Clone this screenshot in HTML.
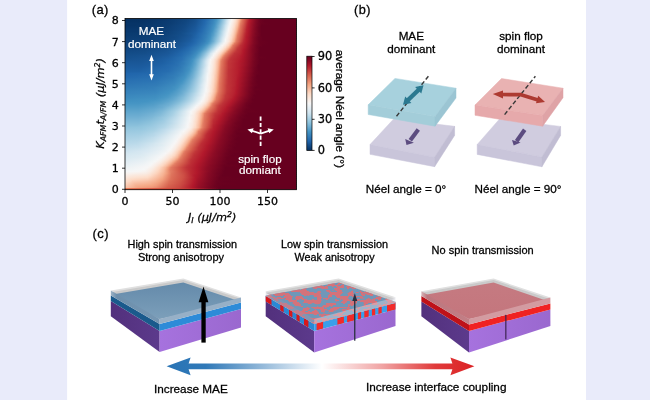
<!DOCTYPE html>
<html><head><meta charset="utf-8"><title>Figure</title>
<style>
html,body{margin:0;padding:0;background:#fff;}
body{width:650px;height:400px;overflow:hidden;position:relative;}
svg{position:absolute;left:0;top:0;display:block;}
.ar{font-family:"Liberation Sans",Arial,Helvetica,sans-serif;}
.dj{font-family:"DejaVu Sans","Liberation Sans",sans-serif;}
.it{font-style:italic;}
text{stroke:#000;stroke-width:.28px;}
.w text{stroke:#fff;stroke-width:.2px;}
</style></head><body>
<svg width="650" height="400" viewBox="0 0 650 400">
<defs>
<linearGradient id="h0" gradientUnits="userSpaceOnUse" x1="125.0" x2="296.5" y1="0" y2="0"><stop offset="0" stop-color="#053061"/><stop offset="0.1224" stop-color="#063264"/><stop offset="0.2362" stop-color="#09386d"/><stop offset="0.3586" stop-color="#10457e"/><stop offset="0.4023" stop-color="#144e8a"/><stop offset="0.4548" stop-color="#1e61a5"/><stop offset="0.481" stop-color="#266caf"/><stop offset="0.5248" stop-color="#3c8abe"/><stop offset="0.5335" stop-color="#4291c2"/><stop offset="0.551" stop-color="#62a7ce"/><stop offset="0.586" stop-color="#b1d5e7"/><stop offset="0.6035" stop-color="#dae9f2"/><stop offset="0.621" stop-color="#f7f5f4"/><stop offset="0.6385" stop-color="#fae8de"/><stop offset="0.6472" stop-color="#fcdecd"/><stop offset="0.6647" stop-color="#f8bb9e"/><stop offset="0.6735" stop-color="#f09c7b"/><stop offset="0.6822" stop-color="#e17860"/><stop offset="0.6997" stop-color="#d05548"/><stop offset="0.7259" stop-color="#b1182b"/><stop offset="0.7697" stop-color="#7c0722"/><stop offset="0.7872" stop-color="#6d0220"/><stop offset="0.8134" stop-color="#67001f"/><stop offset="0.9971" stop-color="#67001f"/></linearGradient>
<linearGradient id="h1" gradientUnits="userSpaceOnUse" x1="125.0" x2="296.5" y1="0" y2="0"><stop offset="0" stop-color="#063264"/><stop offset="0.07872" stop-color="#063264"/><stop offset="0.1312" stop-color="#073467"/><stop offset="0.2711" stop-color="#0c3d73"/><stop offset="0.3586" stop-color="#114781"/><stop offset="0.4111" stop-color="#175290"/><stop offset="0.4636" stop-color="#2267ac"/><stop offset="0.516" stop-color="#3a87bd"/><stop offset="0.5335" stop-color="#4997c5"/><stop offset="0.551" stop-color="#68abd0"/><stop offset="0.5773" stop-color="#a5cee3"/><stop offset="0.5948" stop-color="#d1e5f0"/><stop offset="0.6122" stop-color="#f0f4f6"/><stop offset="0.621" stop-color="#f8f3f0"/><stop offset="0.6297" stop-color="#f9eee7"/><stop offset="0.6472" stop-color="#fddbc7"/><stop offset="0.656" stop-color="#fac8af"/><stop offset="0.6647" stop-color="#f6b191"/><stop offset="0.6735" stop-color="#ea8e70"/><stop offset="0.6822" stop-color="#de735c"/><stop offset="0.6997" stop-color="#ce4f45"/><stop offset="0.7172" stop-color="#b82531"/><stop offset="0.7259" stop-color="#b1182b"/><stop offset="0.7609" stop-color="#840924"/><stop offset="0.7872" stop-color="#6d0220"/><stop offset="0.8134" stop-color="#67001f"/><stop offset="0.9971" stop-color="#67001f"/></linearGradient>
<linearGradient id="h2" gradientUnits="userSpaceOnUse" x1="125.0" x2="296.5" y1="0" y2="0"><stop offset="0" stop-color="#073467"/><stop offset="0.105" stop-color="#073467"/><stop offset="0.2624" stop-color="#0c3d73"/><stop offset="0.3499" stop-color="#114781"/><stop offset="0.4111" stop-color="#185493"/><stop offset="0.4636" stop-color="#2369ad"/><stop offset="0.5073" stop-color="#3783bb"/><stop offset="0.5248" stop-color="#4291c2"/><stop offset="0.5423" stop-color="#5fa5cd"/><stop offset="0.5773" stop-color="#acd2e5"/><stop offset="0.5948" stop-color="#d5e7f1"/><stop offset="0.6122" stop-color="#f6f7f7"/><stop offset="0.6297" stop-color="#faeae1"/><stop offset="0.6472" stop-color="#fcd5bf"/><stop offset="0.656" stop-color="#f9c2a7"/><stop offset="0.6647" stop-color="#f4a683"/><stop offset="0.6735" stop-color="#e48066"/><stop offset="0.691" stop-color="#d55d4c"/><stop offset="0.7172" stop-color="#b61f2e"/><stop offset="0.7347" stop-color="#a21328"/><stop offset="0.7697" stop-color="#790622"/><stop offset="0.7959" stop-color="#6a011f"/><stop offset="0.8484" stop-color="#67001f"/><stop offset="0.9971" stop-color="#67001f"/></linearGradient>
<linearGradient id="h3" gradientUnits="userSpaceOnUse" x1="125.0" x2="296.5" y1="0" y2="0"><stop offset="0" stop-color="#073467"/><stop offset="0.05248" stop-color="#073467"/><stop offset="0.105" stop-color="#08366a"/><stop offset="0.2449" stop-color="#0c3d73"/><stop offset="0.3499" stop-color="#124984"/><stop offset="0.4111" stop-color="#195696"/><stop offset="0.4636" stop-color="#266caf"/><stop offset="0.5073" stop-color="#3a87bd"/><stop offset="0.5248" stop-color="#4695c4"/><stop offset="0.5598" stop-color="#8dc2dc"/><stop offset="0.586" stop-color="#cce2ef"/><stop offset="0.6035" stop-color="#ecf2f5"/><stop offset="0.6122" stop-color="#f7f5f4"/><stop offset="0.6297" stop-color="#fae7dc"/><stop offset="0.6385" stop-color="#fdddcb"/><stop offset="0.656" stop-color="#f8bb9e"/><stop offset="0.6647" stop-color="#ef9979"/><stop offset="0.6735" stop-color="#e17860"/><stop offset="0.6997" stop-color="#c84440"/><stop offset="0.7085" stop-color="#bd2d35"/><stop offset="0.7172" stop-color="#b41c2d"/><stop offset="0.7522" stop-color="#8a0b25"/><stop offset="0.7784" stop-color="#730421"/><stop offset="0.7959" stop-color="#67001f"/><stop offset="0.9971" stop-color="#67001f"/></linearGradient>
<linearGradient id="h4" gradientUnits="userSpaceOnUse" x1="125.0" x2="296.5" y1="0" y2="0"><stop offset="0" stop-color="#08366a"/><stop offset="0.08746" stop-color="#08366a"/><stop offset="0.1399" stop-color="#09386d"/><stop offset="0.2536" stop-color="#0d3f76"/><stop offset="0.3411" stop-color="#124984"/><stop offset="0.4111" stop-color="#1a5899"/><stop offset="0.4548" stop-color="#246aae"/><stop offset="0.4985" stop-color="#3783bb"/><stop offset="0.516" stop-color="#4291c2"/><stop offset="0.5335" stop-color="#5ca3cb"/><stop offset="0.5773" stop-color="#bddbea"/><stop offset="0.586" stop-color="#d2e6f0"/><stop offset="0.6035" stop-color="#f2f5f6"/><stop offset="0.6122" stop-color="#f8f3f0"/><stop offset="0.6297" stop-color="#fbe4d6"/><stop offset="0.6385" stop-color="#fdd9c4"/><stop offset="0.656" stop-color="#f6b191"/><stop offset="0.6647" stop-color="#ea8e70"/><stop offset="0.6735" stop-color="#de735c"/><stop offset="0.6997" stop-color="#c53e3d"/><stop offset="0.7085" stop-color="#ba2832"/><stop offset="0.7172" stop-color="#b3192c"/><stop offset="0.7609" stop-color="#7f0823"/><stop offset="0.7784" stop-color="#700320"/><stop offset="0.7959" stop-color="#67001f"/><stop offset="0.9971" stop-color="#67001f"/></linearGradient>
<linearGradient id="h5" gradientUnits="userSpaceOnUse" x1="125.0" x2="296.5" y1="0" y2="0"><stop offset="0" stop-color="#09386d"/><stop offset="0.1137" stop-color="#09386d"/><stop offset="0.2624" stop-color="#0e4179"/><stop offset="0.3324" stop-color="#124984"/><stop offset="0.4111" stop-color="#1b5a9c"/><stop offset="0.4461" stop-color="#2369ad"/><stop offset="0.4898" stop-color="#3480b9"/><stop offset="0.5073" stop-color="#3e8cbf"/><stop offset="0.516" stop-color="#4695c4"/><stop offset="0.5423" stop-color="#78b4d5"/><stop offset="0.586" stop-color="#d8e9f1"/><stop offset="0.6035" stop-color="#f7f6f6"/><stop offset="0.621" stop-color="#faeae1"/><stop offset="0.6385" stop-color="#fcd3bc"/><stop offset="0.6472" stop-color="#f8bfa4"/><stop offset="0.656" stop-color="#f4a683"/><stop offset="0.6647" stop-color="#e48066"/><stop offset="0.6822" stop-color="#d55d4c"/><stop offset="0.6997" stop-color="#c2383a"/><stop offset="0.7085" stop-color="#b72230"/><stop offset="0.7172" stop-color="#b3192c"/><stop offset="0.7522" stop-color="#870a24"/><stop offset="0.7784" stop-color="#700320"/><stop offset="0.7959" stop-color="#67001f"/><stop offset="0.9971" stop-color="#67001f"/></linearGradient>
<linearGradient id="h6" gradientUnits="userSpaceOnUse" x1="125.0" x2="296.5" y1="0" y2="0"><stop offset="0" stop-color="#09386d"/><stop offset="0.06997" stop-color="#09386d"/><stop offset="0.1224" stop-color="#0a3b70"/><stop offset="0.2449" stop-color="#0e4179"/><stop offset="0.3499" stop-color="#144e8a"/><stop offset="0.4111" stop-color="#1c5c9f"/><stop offset="0.4461" stop-color="#246aae"/><stop offset="0.4985" stop-color="#3b88be"/><stop offset="0.5073" stop-color="#408fc1"/><stop offset="0.5335" stop-color="#6bacd1"/><stop offset="0.551" stop-color="#93c6de"/><stop offset="0.5773" stop-color="#cfe4ef"/><stop offset="0.5948" stop-color="#edf2f5"/><stop offset="0.6035" stop-color="#f8f4f2"/><stop offset="0.621" stop-color="#fae7dc"/><stop offset="0.6297" stop-color="#fdddcb"/><stop offset="0.6472" stop-color="#f7b99c"/><stop offset="0.656" stop-color="#ef9979"/><stop offset="0.6647" stop-color="#e17860"/><stop offset="0.6822" stop-color="#d35a4a"/><stop offset="0.7085" stop-color="#b72230"/><stop offset="0.7172" stop-color="#b1182b"/><stop offset="0.7434" stop-color="#900d26"/><stop offset="0.7784" stop-color="#700320"/><stop offset="0.7959" stop-color="#67001f"/><stop offset="0.9971" stop-color="#67001f"/></linearGradient>
<linearGradient id="h7" gradientUnits="userSpaceOnUse" x1="125.0" x2="296.5" y1="0" y2="0"><stop offset="0" stop-color="#0a3b70"/><stop offset="0.105" stop-color="#0a3b70"/><stop offset="0.2536" stop-color="#0f437b"/><stop offset="0.3236" stop-color="#134c87"/><stop offset="0.4111" stop-color="#1d5fa2"/><stop offset="0.4286" stop-color="#2267ac"/><stop offset="0.4723" stop-color="#307ab6"/><stop offset="0.4985" stop-color="#3e8cbf"/><stop offset="0.516" stop-color="#529dc8"/><stop offset="0.5423" stop-color="#87beda"/><stop offset="0.5598" stop-color="#acd2e5"/><stop offset="0.5773" stop-color="#d5e7f1"/><stop offset="0.5948" stop-color="#f3f5f6"/><stop offset="0.6122" stop-color="#f9ede5"/><stop offset="0.6297" stop-color="#fdd9c4"/><stop offset="0.6385" stop-color="#f9c6ac"/><stop offset="0.6472" stop-color="#f6af8e"/><stop offset="0.656" stop-color="#e98b6e"/><stop offset="0.6647" stop-color="#de735c"/><stop offset="0.6822" stop-color="#d05548"/><stop offset="0.6997" stop-color="#bd2d35"/><stop offset="0.7085" stop-color="#b61f2e"/><stop offset="0.7172" stop-color="#ae172a"/><stop offset="0.7609" stop-color="#7c0722"/><stop offset="0.7959" stop-color="#67001f"/><stop offset="0.9971" stop-color="#67001f"/></linearGradient>
<linearGradient id="h8" gradientUnits="userSpaceOnUse" x1="125.0" x2="296.5" y1="0" y2="0"><stop offset="0" stop-color="#0a3b70"/><stop offset="0.1224" stop-color="#0c3d73"/><stop offset="0.2362" stop-color="#0f437b"/><stop offset="0.3411" stop-color="#15508d"/><stop offset="0.3848" stop-color="#1a5899"/><stop offset="0.4286" stop-color="#2369ad"/><stop offset="0.4723" stop-color="#337eb8"/><stop offset="0.4985" stop-color="#408fc1"/><stop offset="0.516" stop-color="#59a1ca"/><stop offset="0.5335" stop-color="#7bb6d6"/><stop offset="0.551" stop-color="#a2cde3"/><stop offset="0.5773" stop-color="#dae9f2"/><stop offset="0.5948" stop-color="#f7f6f6"/><stop offset="0.6122" stop-color="#fae9df"/><stop offset="0.6297" stop-color="#fcd3bc"/><stop offset="0.6385" stop-color="#f8bfa4"/><stop offset="0.6472" stop-color="#f3a481"/><stop offset="0.656" stop-color="#e37e64"/><stop offset="0.6822" stop-color="#ce4f45"/><stop offset="0.6997" stop-color="#ba2832"/><stop offset="0.7085" stop-color="#b41c2d"/><stop offset="0.7172" stop-color="#ae172a"/><stop offset="0.7434" stop-color="#8d0c25"/><stop offset="0.7697" stop-color="#760521"/><stop offset="0.7959" stop-color="#67001f"/><stop offset="0.9971" stop-color="#67001f"/></linearGradient>
<linearGradient id="h9" gradientUnits="userSpaceOnUse" x1="125.0" x2="296.5" y1="0" y2="0"><stop offset="0" stop-color="#0c3d73"/><stop offset="0.08746" stop-color="#0c3d73"/><stop offset="0.1399" stop-color="#0d3f76"/><stop offset="0.2886" stop-color="#124984"/><stop offset="0.3411" stop-color="#175290"/><stop offset="0.3848" stop-color="#1b5a9c"/><stop offset="0.4286" stop-color="#246aae"/><stop offset="0.4723" stop-color="#3480b9"/><stop offset="0.4985" stop-color="#4393c3"/><stop offset="0.5335" stop-color="#84bcd9"/><stop offset="0.5685" stop-color="#d1e5f0"/><stop offset="0.586" stop-color="#eff3f5"/><stop offset="0.5948" stop-color="#f8f4f2"/><stop offset="0.6122" stop-color="#fbe6da"/><stop offset="0.621" stop-color="#fddcc9"/><stop offset="0.6297" stop-color="#fbccb4"/><stop offset="0.6385" stop-color="#f7b799"/><stop offset="0.6472" stop-color="#ef9979"/><stop offset="0.656" stop-color="#e17860"/><stop offset="0.6822" stop-color="#cb4942"/><stop offset="0.6997" stop-color="#b82531"/><stop offset="0.7085" stop-color="#b3192c"/><stop offset="0.7522" stop-color="#810823"/><stop offset="0.7784" stop-color="#6d0220"/><stop offset="0.8047" stop-color="#67001f"/><stop offset="0.9971" stop-color="#67001f"/></linearGradient>
<linearGradient id="h10" gradientUnits="userSpaceOnUse" x1="125.0" x2="296.5" y1="0" y2="0"><stop offset="0" stop-color="#0d3f76"/><stop offset="0.1137" stop-color="#0d3f76"/><stop offset="0.2274" stop-color="#10457e"/><stop offset="0.3061" stop-color="#144e8a"/><stop offset="0.3761" stop-color="#1b5a9c"/><stop offset="0.4111" stop-color="#2267ac"/><stop offset="0.4548" stop-color="#2f79b5"/><stop offset="0.4898" stop-color="#408fc1"/><stop offset="0.4985" stop-color="#4997c5"/><stop offset="0.5248" stop-color="#7bb6d6"/><stop offset="0.5685" stop-color="#d7e8f1"/><stop offset="0.586" stop-color="#f6f7f7"/><stop offset="0.6035" stop-color="#f9ebe3"/><stop offset="0.621" stop-color="#fcd7c2"/><stop offset="0.6385" stop-color="#f6af8e"/><stop offset="0.6472" stop-color="#e98b6e"/><stop offset="0.656" stop-color="#de735c"/><stop offset="0.6822" stop-color="#c84440"/><stop offset="0.691" stop-color="#be3036"/><stop offset="0.6997" stop-color="#b72230"/><stop offset="0.7085" stop-color="#b3192c"/><stop offset="0.7522" stop-color="#810823"/><stop offset="0.7784" stop-color="#6d0220"/><stop offset="0.8047" stop-color="#67001f"/><stop offset="0.9971" stop-color="#67001f"/></linearGradient>
<linearGradient id="h11" gradientUnits="userSpaceOnUse" x1="125.0" x2="296.5" y1="0" y2="0"><stop offset="0" stop-color="#0d3f76"/><stop offset="0.06997" stop-color="#0d3f76"/><stop offset="0.1224" stop-color="#0e4179"/><stop offset="0.2362" stop-color="#114781"/><stop offset="0.3236" stop-color="#175290"/><stop offset="0.3848" stop-color="#1d5fa2"/><stop offset="0.4111" stop-color="#2369ad"/><stop offset="0.4636" stop-color="#3480b9"/><stop offset="0.4898" stop-color="#4393c3"/><stop offset="0.516" stop-color="#6eaed2"/><stop offset="0.5335" stop-color="#96c7df"/><stop offset="0.551" stop-color="#b8d8e9"/><stop offset="0.5685" stop-color="#ddebf2"/><stop offset="0.586" stop-color="#f7f5f4"/><stop offset="0.6035" stop-color="#fae9df"/><stop offset="0.6122" stop-color="#fcdfcf"/><stop offset="0.6297" stop-color="#f8bda1"/><stop offset="0.6385" stop-color="#f3a481"/><stop offset="0.6472" stop-color="#e37e64"/><stop offset="0.6735" stop-color="#ce4f45"/><stop offset="0.691" stop-color="#bb2a34"/><stop offset="0.7085" stop-color="#b1182b"/><stop offset="0.7522" stop-color="#7f0823"/><stop offset="0.7872" stop-color="#6a011f"/><stop offset="0.8397" stop-color="#67001f"/><stop offset="0.9971" stop-color="#67001f"/></linearGradient>
<linearGradient id="h12" gradientUnits="userSpaceOnUse" x1="125.0" x2="296.5" y1="0" y2="0"><stop offset="0" stop-color="#0e4179"/><stop offset="0.06122" stop-color="#0e4179"/><stop offset="0.1137" stop-color="#0f437b"/><stop offset="0.2362" stop-color="#124984"/><stop offset="0.3061" stop-color="#175290"/><stop offset="0.3848" stop-color="#1f63a8"/><stop offset="0.4111" stop-color="#266caf"/><stop offset="0.4548" stop-color="#3681ba"/><stop offset="0.481" stop-color="#4393c3"/><stop offset="0.4985" stop-color="#5fa5cd"/><stop offset="0.5335" stop-color="#a7d0e4"/><stop offset="0.551" stop-color="#cfe4ef"/><stop offset="0.5773" stop-color="#f7f5f4"/><stop offset="0.5948" stop-color="#faeae1"/><stop offset="0.6122" stop-color="#fbd0b9"/><stop offset="0.621" stop-color="#f8bfa4"/><stop offset="0.6297" stop-color="#f3a481"/><stop offset="0.6385" stop-color="#e37e64"/><stop offset="0.656" stop-color="#d6604d"/><stop offset="0.6822" stop-color="#be3036"/><stop offset="0.6997" stop-color="#b41c2d"/><stop offset="0.7172" stop-color="#a51429"/><stop offset="0.7522" stop-color="#7f0823"/><stop offset="0.7872" stop-color="#6a011f"/><stop offset="0.8397" stop-color="#67001f"/><stop offset="0.9971" stop-color="#67001f"/></linearGradient>
<linearGradient id="h13" gradientUnits="userSpaceOnUse" x1="125.0" x2="296.5" y1="0" y2="0"><stop offset="0" stop-color="#0f437b"/><stop offset="0.06122" stop-color="#0f437b"/><stop offset="0.1137" stop-color="#10457e"/><stop offset="0.2274" stop-color="#134c87"/><stop offset="0.3149" stop-color="#195696"/><stop offset="0.3499" stop-color="#1c5c9f"/><stop offset="0.3848" stop-color="#2267ac"/><stop offset="0.4373" stop-color="#337eb8"/><stop offset="0.4636" stop-color="#408fc1"/><stop offset="0.481" stop-color="#569fc9"/><stop offset="0.516" stop-color="#98c8e0"/><stop offset="0.5423" stop-color="#d2e6f0"/><stop offset="0.5598" stop-color="#eff3f5"/><stop offset="0.5685" stop-color="#f8f4f2"/><stop offset="0.586" stop-color="#fae8de"/><stop offset="0.6035" stop-color="#fcd3bc"/><stop offset="0.6122" stop-color="#f8bfa4"/><stop offset="0.621" stop-color="#f2a17f"/><stop offset="0.6297" stop-color="#e17860"/><stop offset="0.656" stop-color="#ce4f45"/><stop offset="0.6735" stop-color="#be3036"/><stop offset="0.6997" stop-color="#b3192c"/><stop offset="0.7434" stop-color="#840924"/><stop offset="0.7697" stop-color="#700320"/><stop offset="0.8047" stop-color="#67001f"/><stop offset="0.9971" stop-color="#67001f"/></linearGradient>
<linearGradient id="h14" gradientUnits="userSpaceOnUse" x1="125.0" x2="296.5" y1="0" y2="0"><stop offset="0" stop-color="#10457e"/><stop offset="0.05248" stop-color="#10457e"/><stop offset="0.105" stop-color="#114781"/><stop offset="0.2274" stop-color="#144e8a"/><stop offset="0.3324" stop-color="#1c5c9f"/><stop offset="0.3673" stop-color="#2267ac"/><stop offset="0.4286" stop-color="#3480b9"/><stop offset="0.4548" stop-color="#4291c2"/><stop offset="0.4723" stop-color="#59a1ca"/><stop offset="0.4985" stop-color="#8ac0db"/><stop offset="0.5335" stop-color="#d5e7f1"/><stop offset="0.551" stop-color="#f3f5f6"/><stop offset="0.5685" stop-color="#f9eee7"/><stop offset="0.586" stop-color="#fdddcb"/><stop offset="0.6035" stop-color="#f8bda1"/><stop offset="0.6122" stop-color="#f3a481"/><stop offset="0.621" stop-color="#e48066"/><stop offset="0.6297" stop-color="#dc6e57"/><stop offset="0.656" stop-color="#c53e3d"/><stop offset="0.6647" stop-color="#bf3338"/><stop offset="0.6997" stop-color="#b1182b"/><stop offset="0.7347" stop-color="#8a0b25"/><stop offset="0.7697" stop-color="#700320"/><stop offset="0.7872" stop-color="#67001f"/><stop offset="0.9971" stop-color="#67001f"/></linearGradient>
<linearGradient id="h15" gradientUnits="userSpaceOnUse" x1="125.0" x2="296.5" y1="0" y2="0"><stop offset="0" stop-color="#114781"/><stop offset="0.1224" stop-color="#124984"/><stop offset="0.2624" stop-color="#185493"/><stop offset="0.3324" stop-color="#1e61a5"/><stop offset="0.3761" stop-color="#276eb0"/><stop offset="0.4198" stop-color="#3681ba"/><stop offset="0.4461" stop-color="#4393c3"/><stop offset="0.4723" stop-color="#6bacd1"/><stop offset="0.4985" stop-color="#a2cde3"/><stop offset="0.5335" stop-color="#e7f0f4"/><stop offset="0.5423" stop-color="#f6f7f7"/><stop offset="0.5598" stop-color="#f9ede5"/><stop offset="0.5773" stop-color="#fddbc7"/><stop offset="0.5948" stop-color="#f7b99c"/><stop offset="0.6035" stop-color="#f09c7b"/><stop offset="0.6122" stop-color="#e27b62"/><stop offset="0.6385" stop-color="#cf5246"/><stop offset="0.656" stop-color="#bf3338"/><stop offset="0.6735" stop-color="#bb2a34"/><stop offset="0.691" stop-color="#b3192c"/><stop offset="0.7434" stop-color="#810823"/><stop offset="0.7872" stop-color="#67001f"/><stop offset="0.9971" stop-color="#67001f"/></linearGradient>
<linearGradient id="h16" gradientUnits="userSpaceOnUse" x1="125.0" x2="296.5" y1="0" y2="0"><stop offset="0" stop-color="#124984"/><stop offset="0.1137" stop-color="#134c87"/><stop offset="0.2362" stop-color="#185493"/><stop offset="0.3061" stop-color="#1d5fa2"/><stop offset="0.3673" stop-color="#2870b1"/><stop offset="0.4111" stop-color="#3783bb"/><stop offset="0.4373" stop-color="#4695c4"/><stop offset="0.4723" stop-color="#81bad8"/><stop offset="0.5073" stop-color="#cce2ef"/><stop offset="0.5335" stop-color="#f7f5f4"/><stop offset="0.551" stop-color="#faeae1"/><stop offset="0.5685" stop-color="#fcd7c2"/><stop offset="0.586" stop-color="#f6b394"/><stop offset="0.5948" stop-color="#ec9374"/><stop offset="0.6035" stop-color="#e17860"/><stop offset="0.6297" stop-color="#ce4f45"/><stop offset="0.6472" stop-color="#c13639"/><stop offset="0.6735" stop-color="#ba2832"/><stop offset="0.691" stop-color="#b1182b"/><stop offset="0.7434" stop-color="#810823"/><stop offset="0.7872" stop-color="#67001f"/><stop offset="0.9971" stop-color="#67001f"/></linearGradient>
<linearGradient id="h17" gradientUnits="userSpaceOnUse" x1="125.0" x2="296.5" y1="0" y2="0"><stop offset="0" stop-color="#134c87"/><stop offset="0.1137" stop-color="#144e8a"/><stop offset="0.2536" stop-color="#1a5899"/><stop offset="0.3324" stop-color="#2369ad"/><stop offset="0.3848" stop-color="#307ab6"/><stop offset="0.4198" stop-color="#408fc1"/><stop offset="0.4373" stop-color="#569fc9"/><stop offset="0.4636" stop-color="#84bcd9"/><stop offset="0.4898" stop-color="#bbdaea"/><stop offset="0.4985" stop-color="#d1e5f0"/><stop offset="0.516" stop-color="#edf2f5"/><stop offset="0.5248" stop-color="#f8f4f2"/><stop offset="0.5423" stop-color="#fae9df"/><stop offset="0.5598" stop-color="#fcd5bf"/><stop offset="0.5773" stop-color="#f5ac8b"/><stop offset="0.586" stop-color="#e98b6e"/><stop offset="0.5948" stop-color="#df765e"/><stop offset="0.621" stop-color="#cc4c44"/><stop offset="0.6385" stop-color="#bf3338"/><stop offset="0.6735" stop-color="#b82531"/><stop offset="0.691" stop-color="#ae172a"/><stop offset="0.7609" stop-color="#730421"/><stop offset="0.7872" stop-color="#67001f"/><stop offset="0.9971" stop-color="#67001f"/></linearGradient>
<linearGradient id="h18" gradientUnits="userSpaceOnUse" x1="125.0" x2="296.5" y1="0" y2="0"><stop offset="0" stop-color="#144e8a"/><stop offset="0.1487" stop-color="#175290"/><stop offset="0.2449" stop-color="#1b5a9c"/><stop offset="0.3236" stop-color="#2369ad"/><stop offset="0.3761" stop-color="#327cb7"/><stop offset="0.4111" stop-color="#408fc1"/><stop offset="0.4373" stop-color="#62a7ce"/><stop offset="0.481" stop-color="#b8d8e9"/><stop offset="0.4898" stop-color="#cfe4ef"/><stop offset="0.516" stop-color="#f7f5f4"/><stop offset="0.5335" stop-color="#fae9df"/><stop offset="0.551" stop-color="#fcd3bc"/><stop offset="0.5598" stop-color="#f8bfa4"/><stop offset="0.5685" stop-color="#f4a683"/><stop offset="0.5773" stop-color="#e6866a"/><stop offset="0.586" stop-color="#de735c"/><stop offset="0.6122" stop-color="#cb4942"/><stop offset="0.6297" stop-color="#bf3338"/><stop offset="0.6647" stop-color="#b82531"/><stop offset="0.6822" stop-color="#b3192c"/><stop offset="0.7609" stop-color="#730421"/><stop offset="0.7872" stop-color="#67001f"/><stop offset="0.9971" stop-color="#67001f"/></linearGradient>
<linearGradient id="h19" gradientUnits="userSpaceOnUse" x1="125.0" x2="296.5" y1="0" y2="0"><stop offset="0" stop-color="#15508d"/><stop offset="0.1487" stop-color="#185493"/><stop offset="0.2536" stop-color="#1d5fa2"/><stop offset="0.3324" stop-color="#2870b1"/><stop offset="0.3848" stop-color="#3885bc"/><stop offset="0.4023" stop-color="#408fc1"/><stop offset="0.4286" stop-color="#62a7ce"/><stop offset="0.4636" stop-color="#a5cee3"/><stop offset="0.481" stop-color="#cce2ef"/><stop offset="0.5073" stop-color="#f7f6f6"/><stop offset="0.5248" stop-color="#faeae1"/><stop offset="0.5423" stop-color="#fcd5bf"/><stop offset="0.551" stop-color="#f9c2a7"/><stop offset="0.5598" stop-color="#f5aa89"/><stop offset="0.5685" stop-color="#e8896c"/><stop offset="0.5773" stop-color="#de735c"/><stop offset="0.6035" stop-color="#cb4942"/><stop offset="0.6122" stop-color="#c43b3c"/><stop offset="0.621" stop-color="#bf3338"/><stop offset="0.6647" stop-color="#b72230"/><stop offset="0.6822" stop-color="#b1182b"/><stop offset="0.7522" stop-color="#790622"/><stop offset="0.7784" stop-color="#6a011f"/><stop offset="0.8309" stop-color="#67001f"/><stop offset="0.9971" stop-color="#67001f"/></linearGradient>
<linearGradient id="h20" gradientUnits="userSpaceOnUse" x1="125.0" x2="296.5" y1="0" y2="0"><stop offset="0" stop-color="#175290"/><stop offset="0.1487" stop-color="#195696"/><stop offset="0.2624" stop-color="#1f63a8"/><stop offset="0.3324" stop-color="#2a71b2"/><stop offset="0.3848" stop-color="#3c8abe"/><stop offset="0.4023" stop-color="#4997c5"/><stop offset="0.4286" stop-color="#71b0d3"/><stop offset="0.481" stop-color="#dae9f2"/><stop offset="0.4985" stop-color="#f7f6f6"/><stop offset="0.516" stop-color="#f9ebe3"/><stop offset="0.5335" stop-color="#fcd7c2"/><stop offset="0.5423" stop-color="#f9c6ac"/><stop offset="0.551" stop-color="#f6af8e"/><stop offset="0.5598" stop-color="#ea8e70"/><stop offset="0.5685" stop-color="#df765e"/><stop offset="0.5948" stop-color="#cc4c44"/><stop offset="0.6122" stop-color="#bf3338"/><stop offset="0.6647" stop-color="#b61f2e"/><stop offset="0.691" stop-color="#a81529"/><stop offset="0.7609" stop-color="#730421"/><stop offset="0.7872" stop-color="#67001f"/><stop offset="0.9971" stop-color="#67001f"/></linearGradient>
<linearGradient id="h21" gradientUnits="userSpaceOnUse" x1="125.0" x2="296.5" y1="0" y2="0"><stop offset="0" stop-color="#195696"/><stop offset="0.09621" stop-color="#195696"/><stop offset="0.2187" stop-color="#1d5fa2"/><stop offset="0.3149" stop-color="#2870b1"/><stop offset="0.3761" stop-color="#3b88be"/><stop offset="0.3936" stop-color="#4393c3"/><stop offset="0.4286" stop-color="#78b4d5"/><stop offset="0.4723" stop-color="#d1e5f0"/><stop offset="0.4898" stop-color="#edf2f5"/><stop offset="0.4985" stop-color="#f8f4f2"/><stop offset="0.516" stop-color="#fae8de"/><stop offset="0.5248" stop-color="#fcdfcf"/><stop offset="0.5423" stop-color="#f8bfa4"/><stop offset="0.551" stop-color="#f4a683"/><stop offset="0.5598" stop-color="#e48066"/><stop offset="0.5773" stop-color="#d7634f"/><stop offset="0.6035" stop-color="#c2383a"/><stop offset="0.656" stop-color="#b72230"/><stop offset="0.6735" stop-color="#b1182b"/><stop offset="0.691" stop-color="#a81529"/><stop offset="0.7522" stop-color="#760521"/><stop offset="0.7872" stop-color="#67001f"/><stop offset="0.9971" stop-color="#67001f"/></linearGradient>
<linearGradient id="h22" gradientUnits="userSpaceOnUse" x1="125.0" x2="296.5" y1="0" y2="0"><stop offset="0" stop-color="#1a5899"/><stop offset="0.09621" stop-color="#1a5899"/><stop offset="0.2187" stop-color="#1e61a5"/><stop offset="0.2799" stop-color="#246aae"/><stop offset="0.3411" stop-color="#307ab6"/><stop offset="0.3848" stop-color="#408fc1"/><stop offset="0.4111" stop-color="#5fa5cd"/><stop offset="0.4461" stop-color="#a0cce2"/><stop offset="0.4723" stop-color="#d4e6f1"/><stop offset="0.4898" stop-color="#f0f4f6"/><stop offset="0.4985" stop-color="#f8f4f2"/><stop offset="0.516" stop-color="#fae7dc"/><stop offset="0.5248" stop-color="#fdddcb"/><stop offset="0.5423" stop-color="#f8bb9e"/><stop offset="0.551" stop-color="#f2a17f"/><stop offset="0.5598" stop-color="#e37e64"/><stop offset="0.5773" stop-color="#d6604d"/><stop offset="0.6035" stop-color="#c13639"/><stop offset="0.6647" stop-color="#b41c2d"/><stop offset="0.7085" stop-color="#991027"/><stop offset="0.7522" stop-color="#760521"/><stop offset="0.7872" stop-color="#67001f"/><stop offset="0.9971" stop-color="#67001f"/></linearGradient>
<linearGradient id="h23" gradientUnits="userSpaceOnUse" x1="125.0" x2="296.5" y1="0" y2="0"><stop offset="0" stop-color="#1b5a9c"/><stop offset="0.09621" stop-color="#1b5a9c"/><stop offset="0.1924" stop-color="#1e61a5"/><stop offset="0.3061" stop-color="#2a71b2"/><stop offset="0.3586" stop-color="#3885bc"/><stop offset="0.3848" stop-color="#4393c3"/><stop offset="0.4111" stop-color="#65a9cf"/><stop offset="0.4548" stop-color="#b6d7e8"/><stop offset="0.4898" stop-color="#f3f5f6"/><stop offset="0.5073" stop-color="#f9eee7"/><stop offset="0.5248" stop-color="#fddcc9"/><stop offset="0.5423" stop-color="#f7b99c"/><stop offset="0.551" stop-color="#f09c7b"/><stop offset="0.5598" stop-color="#e27b62"/><stop offset="0.586" stop-color="#cf5246"/><stop offset="0.6035" stop-color="#c13639"/><stop offset="0.6647" stop-color="#b41c2d"/><stop offset="0.691" stop-color="#a51429"/><stop offset="0.7434" stop-color="#7c0722"/><stop offset="0.7784" stop-color="#67001f"/><stop offset="0.9971" stop-color="#67001f"/></linearGradient>
<linearGradient id="h24" gradientUnits="userSpaceOnUse" x1="125.0" x2="296.5" y1="0" y2="0"><stop offset="0" stop-color="#1c5c9f"/><stop offset="0.09621" stop-color="#1c5c9f"/><stop offset="0.2536" stop-color="#246aae"/><stop offset="0.3236" stop-color="#2f79b5"/><stop offset="0.3761" stop-color="#4291c2"/><stop offset="0.3936" stop-color="#529dc8"/><stop offset="0.4198" stop-color="#7bb6d6"/><stop offset="0.4723" stop-color="#dae9f2"/><stop offset="0.4898" stop-color="#f6f7f7"/><stop offset="0.5073" stop-color="#f9ede5"/><stop offset="0.5248" stop-color="#fddbc7"/><stop offset="0.5423" stop-color="#f7b799"/><stop offset="0.551" stop-color="#ee9677"/><stop offset="0.5598" stop-color="#e17860"/><stop offset="0.586" stop-color="#ce4f45"/><stop offset="0.6035" stop-color="#c13639"/><stop offset="0.656" stop-color="#b61f2e"/><stop offset="0.6822" stop-color="#a81529"/><stop offset="0.7259" stop-color="#870a24"/><stop offset="0.7522" stop-color="#730421"/><stop offset="0.7784" stop-color="#67001f"/><stop offset="0.9971" stop-color="#67001f"/></linearGradient>
<linearGradient id="h25" gradientUnits="userSpaceOnUse" x1="125.0" x2="296.5" y1="0" y2="0"><stop offset="0" stop-color="#1d5fa2"/><stop offset="0.08746" stop-color="#1d5fa2"/><stop offset="0.2536" stop-color="#266caf"/><stop offset="0.3149" stop-color="#2f79b5"/><stop offset="0.3673" stop-color="#3f8ec0"/><stop offset="0.3761" stop-color="#4393c3"/><stop offset="0.4111" stop-color="#71b0d3"/><stop offset="0.4548" stop-color="#c0dceb"/><stop offset="0.4636" stop-color="#d1e5f0"/><stop offset="0.4898" stop-color="#f7f6f6"/><stop offset="0.5073" stop-color="#f9ebe3"/><stop offset="0.5248" stop-color="#fdd9c4"/><stop offset="0.5423" stop-color="#f6b394"/><stop offset="0.551" stop-color="#ec9374"/><stop offset="0.5598" stop-color="#df765e"/><stop offset="0.5948" stop-color="#c6413e"/><stop offset="0.6035" stop-color="#bf3338"/><stop offset="0.656" stop-color="#b61f2e"/><stop offset="0.6822" stop-color="#a81529"/><stop offset="0.7522" stop-color="#730421"/><stop offset="0.7784" stop-color="#67001f"/><stop offset="0.9971" stop-color="#67001f"/></linearGradient>
<linearGradient id="h26" gradientUnits="userSpaceOnUse" x1="125.0" x2="296.5" y1="0" y2="0"><stop offset="0" stop-color="#1e61a5"/><stop offset="0.07872" stop-color="#1e61a5"/><stop offset="0.2536" stop-color="#276eb0"/><stop offset="0.3324" stop-color="#3681ba"/><stop offset="0.3673" stop-color="#4291c2"/><stop offset="0.3848" stop-color="#529dc8"/><stop offset="0.4198" stop-color="#87beda"/><stop offset="0.4636" stop-color="#d4e6f1"/><stop offset="0.4898" stop-color="#f7f5f4"/><stop offset="0.5073" stop-color="#faeae1"/><stop offset="0.5248" stop-color="#fcd5bf"/><stop offset="0.5335" stop-color="#f9c4a9"/><stop offset="0.5423" stop-color="#f6af8e"/><stop offset="0.551" stop-color="#ea8e70"/><stop offset="0.5598" stop-color="#df765e"/><stop offset="0.5773" stop-color="#d35a4a"/><stop offset="0.6035" stop-color="#bf3338"/><stop offset="0.656" stop-color="#b61f2e"/><stop offset="0.6647" stop-color="#b3192c"/><stop offset="0.7609" stop-color="#6d0220"/><stop offset="0.7872" stop-color="#67001f"/><stop offset="0.9971" stop-color="#67001f"/></linearGradient>
<linearGradient id="h27" gradientUnits="userSpaceOnUse" x1="125.0" x2="296.5" y1="0" y2="0"><stop offset="0" stop-color="#2065ab"/><stop offset="0.1749" stop-color="#2369ad"/><stop offset="0.2799" stop-color="#2e77b5"/><stop offset="0.3411" stop-color="#3b88be"/><stop offset="0.3673" stop-color="#4695c4"/><stop offset="0.3936" stop-color="#65a9cf"/><stop offset="0.4286" stop-color="#9bc9e0"/><stop offset="0.4636" stop-color="#d7e8f1"/><stop offset="0.481" stop-color="#f0f4f6"/><stop offset="0.4898" stop-color="#f8f4f2"/><stop offset="0.5073" stop-color="#fae8de"/><stop offset="0.5248" stop-color="#fcd3bc"/><stop offset="0.5335" stop-color="#f9c2a7"/><stop offset="0.5423" stop-color="#f5aa89"/><stop offset="0.551" stop-color="#e98b6e"/><stop offset="0.5598" stop-color="#de735c"/><stop offset="0.5948" stop-color="#c53e3d"/><stop offset="0.6035" stop-color="#bf3338"/><stop offset="0.656" stop-color="#b61f2e"/><stop offset="0.6647" stop-color="#b1182b"/><stop offset="0.7172" stop-color="#8a0b25"/><stop offset="0.7522" stop-color="#700320"/><stop offset="0.7872" stop-color="#67001f"/><stop offset="0.9971" stop-color="#67001f"/></linearGradient>
<linearGradient id="h28" gradientUnits="userSpaceOnUse" x1="125.0" x2="296.5" y1="0" y2="0"><stop offset="0" stop-color="#2267ac"/><stop offset="0.2012" stop-color="#276eb0"/><stop offset="0.3061" stop-color="#3480b9"/><stop offset="0.3499" stop-color="#408fc1"/><stop offset="0.3761" stop-color="#569fc9"/><stop offset="0.4023" stop-color="#78b4d5"/><stop offset="0.4461" stop-color="#bddbea"/><stop offset="0.4548" stop-color="#cfe4ef"/><stop offset="0.481" stop-color="#f3f5f6"/><stop offset="0.4985" stop-color="#f9eee7"/><stop offset="0.516" stop-color="#fcdecd"/><stop offset="0.5335" stop-color="#f8bfa4"/><stop offset="0.5423" stop-color="#f5a886"/><stop offset="0.551" stop-color="#e6866a"/><stop offset="0.5598" stop-color="#de735c"/><stop offset="0.5773" stop-color="#d25849"/><stop offset="0.6035" stop-color="#bf3338"/><stop offset="0.6472" stop-color="#b72230"/><stop offset="0.6647" stop-color="#b1182b"/><stop offset="0.7347" stop-color="#7c0722"/><stop offset="0.7697" stop-color="#67001f"/><stop offset="0.9971" stop-color="#67001f"/></linearGradient>
<linearGradient id="h29" gradientUnits="userSpaceOnUse" x1="125.0" x2="296.5" y1="0" y2="0"><stop offset="0" stop-color="#246aae"/><stop offset="0.1837" stop-color="#2870b1"/><stop offset="0.2799" stop-color="#327cb7"/><stop offset="0.3499" stop-color="#4393c3"/><stop offset="0.3936" stop-color="#71b0d3"/><stop offset="0.4286" stop-color="#a7d0e4"/><stop offset="0.4548" stop-color="#d2e6f0"/><stop offset="0.481" stop-color="#f5f6f7"/><stop offset="0.4985" stop-color="#f9eee7"/><stop offset="0.516" stop-color="#fdddcb"/><stop offset="0.5335" stop-color="#f8bda1"/><stop offset="0.5423" stop-color="#f3a481"/><stop offset="0.551" stop-color="#e58368"/><stop offset="0.5598" stop-color="#dd7059"/><stop offset="0.5948" stop-color="#c53e3d"/><stop offset="0.6035" stop-color="#bf3338"/><stop offset="0.6472" stop-color="#b72230"/><stop offset="0.6647" stop-color="#ae172a"/><stop offset="0.7172" stop-color="#870a24"/><stop offset="0.7434" stop-color="#730421"/><stop offset="0.7697" stop-color="#67001f"/><stop offset="0.9971" stop-color="#67001f"/></linearGradient>
<linearGradient id="h30" gradientUnits="userSpaceOnUse" x1="125.0" x2="296.5" y1="0" y2="0"><stop offset="0" stop-color="#276eb0"/><stop offset="0.1837" stop-color="#2b73b3"/><stop offset="0.2799" stop-color="#3480b9"/><stop offset="0.3411" stop-color="#4393c3"/><stop offset="0.3848" stop-color="#6eaed2"/><stop offset="0.4461" stop-color="#c7e0ed"/><stop offset="0.481" stop-color="#f7f6f6"/><stop offset="0.4985" stop-color="#f9ede5"/><stop offset="0.516" stop-color="#fddbc7"/><stop offset="0.5335" stop-color="#f8bb9e"/><stop offset="0.5423" stop-color="#f2a17f"/><stop offset="0.551" stop-color="#e37e64"/><stop offset="0.5685" stop-color="#d7634f"/><stop offset="0.5948" stop-color="#c43b3c"/><stop offset="0.6035" stop-color="#bf3338"/><stop offset="0.6472" stop-color="#b72230"/><stop offset="0.656" stop-color="#b3192c"/><stop offset="0.7522" stop-color="#6d0220"/><stop offset="0.7784" stop-color="#67001f"/><stop offset="0.9971" stop-color="#67001f"/></linearGradient>
<linearGradient id="h31" gradientUnits="userSpaceOnUse" x1="125.0" x2="296.5" y1="0" y2="0"><stop offset="0" stop-color="#2a71b2"/><stop offset="0.1662" stop-color="#2c75b4"/><stop offset="0.2799" stop-color="#3783bb"/><stop offset="0.3324" stop-color="#4393c3"/><stop offset="0.3761" stop-color="#6bacd1"/><stop offset="0.4373" stop-color="#bddbea"/><stop offset="0.4636" stop-color="#e3edf3"/><stop offset="0.481" stop-color="#f7f5f4"/><stop offset="0.4985" stop-color="#f9ebe3"/><stop offset="0.516" stop-color="#fdd9c4"/><stop offset="0.5248" stop-color="#facab1"/><stop offset="0.5335" stop-color="#f7b799"/><stop offset="0.5423" stop-color="#f09c7b"/><stop offset="0.551" stop-color="#e27b62"/><stop offset="0.5773" stop-color="#d05548"/><stop offset="0.5948" stop-color="#c43b3c"/><stop offset="0.6035" stop-color="#bf3338"/><stop offset="0.6385" stop-color="#b82531"/><stop offset="0.656" stop-color="#b3192c"/><stop offset="0.7347" stop-color="#760521"/><stop offset="0.7697" stop-color="#67001f"/><stop offset="0.9971" stop-color="#67001f"/></linearGradient>
<linearGradient id="h32" gradientUnits="userSpaceOnUse" x1="125.0" x2="296.5" y1="0" y2="0"><stop offset="0" stop-color="#2b73b3"/><stop offset="0.1924" stop-color="#307ab6"/><stop offset="0.2886" stop-color="#3b88be"/><stop offset="0.3324" stop-color="#4997c5"/><stop offset="0.3761" stop-color="#71b0d3"/><stop offset="0.4373" stop-color="#c2ddec"/><stop offset="0.4548" stop-color="#dbeaf2"/><stop offset="0.4723" stop-color="#f0f4f6"/><stop offset="0.481" stop-color="#f8f4f2"/><stop offset="0.4985" stop-color="#faeae1"/><stop offset="0.516" stop-color="#fcd7c2"/><stop offset="0.5335" stop-color="#f7b596"/><stop offset="0.5423" stop-color="#ee9677"/><stop offset="0.551" stop-color="#e17860"/><stop offset="0.5685" stop-color="#d6604d"/><stop offset="0.5948" stop-color="#c43b3c"/><stop offset="0.6035" stop-color="#bf3338"/><stop offset="0.6385" stop-color="#b82531"/><stop offset="0.656" stop-color="#b3192c"/><stop offset="0.6822" stop-color="#9c1127"/><stop offset="0.7434" stop-color="#700320"/><stop offset="0.7784" stop-color="#67001f"/><stop offset="0.9971" stop-color="#67001f"/></linearGradient>
<linearGradient id="h33" gradientUnits="userSpaceOnUse" x1="125.0" x2="296.5" y1="0" y2="0"><stop offset="0" stop-color="#2e77b5"/><stop offset="0.1837" stop-color="#327cb7"/><stop offset="0.2886" stop-color="#3e8cbf"/><stop offset="0.3149" stop-color="#4695c4"/><stop offset="0.3673" stop-color="#6eaed2"/><stop offset="0.4198" stop-color="#aed3e6"/><stop offset="0.4461" stop-color="#d4e6f1"/><stop offset="0.4723" stop-color="#f3f5f6"/><stop offset="0.481" stop-color="#f8f4f2"/><stop offset="0.5073" stop-color="#fce0d0"/><stop offset="0.516" stop-color="#fcd5bf"/><stop offset="0.5335" stop-color="#f6b191"/><stop offset="0.5423" stop-color="#ec9374"/><stop offset="0.551" stop-color="#e17860"/><stop offset="0.5773" stop-color="#cf5246"/><stop offset="0.5948" stop-color="#c2383a"/><stop offset="0.6385" stop-color="#b82531"/><stop offset="0.656" stop-color="#b1182b"/><stop offset="0.7259" stop-color="#7c0722"/><stop offset="0.7522" stop-color="#6d0220"/><stop offset="0.7784" stop-color="#67001f"/><stop offset="0.9971" stop-color="#67001f"/></linearGradient>
<linearGradient id="h34" gradientUnits="userSpaceOnUse" x1="125.0" x2="296.5" y1="0" y2="0"><stop offset="0" stop-color="#307ab6"/><stop offset="0.1574" stop-color="#337eb8"/><stop offset="0.2711" stop-color="#3e8cbf"/><stop offset="0.3061" stop-color="#4695c4"/><stop offset="0.3499" stop-color="#65a9cf"/><stop offset="0.3761" stop-color="#7eb8d7"/><stop offset="0.4198" stop-color="#b3d6e8"/><stop offset="0.4548" stop-color="#e0ecf3"/><stop offset="0.4723" stop-color="#f5f6f7"/><stop offset="0.4898" stop-color="#f9eee7"/><stop offset="0.5073" stop-color="#fcdecd"/><stop offset="0.516" stop-color="#fcd3bc"/><stop offset="0.5248" stop-color="#f9c2a7"/><stop offset="0.5335" stop-color="#f5ac8b"/><stop offset="0.551" stop-color="#df765e"/><stop offset="0.5773" stop-color="#cf5246"/><stop offset="0.5948" stop-color="#c2383a"/><stop offset="0.6385" stop-color="#b72230"/><stop offset="0.656" stop-color="#b1182b"/><stop offset="0.6822" stop-color="#991027"/><stop offset="0.7347" stop-color="#730421"/><stop offset="0.7609" stop-color="#67001f"/><stop offset="0.9971" stop-color="#67001f"/></linearGradient>
<linearGradient id="h35" gradientUnits="userSpaceOnUse" x1="125.0" x2="296.5" y1="0" y2="0"><stop offset="0" stop-color="#337eb8"/><stop offset="0.1662" stop-color="#3681ba"/><stop offset="0.2711" stop-color="#408fc1"/><stop offset="0.2886" stop-color="#4393c3"/><stop offset="0.3499" stop-color="#6bacd1"/><stop offset="0.4023" stop-color="#a2cde3"/><stop offset="0.4461" stop-color="#dae9f2"/><stop offset="0.4723" stop-color="#f6f7f7"/><stop offset="0.4898" stop-color="#f9eee7"/><stop offset="0.5073" stop-color="#fdddcb"/><stop offset="0.5248" stop-color="#f8bfa4"/><stop offset="0.5335" stop-color="#f5aa89"/><stop offset="0.5423" stop-color="#e98b6e"/><stop offset="0.551" stop-color="#df765e"/><stop offset="0.5685" stop-color="#d55d4c"/><stop offset="0.5948" stop-color="#c2383a"/><stop offset="0.6385" stop-color="#b72230"/><stop offset="0.656" stop-color="#ae172a"/><stop offset="0.7085" stop-color="#840924"/><stop offset="0.7522" stop-color="#6a011f"/><stop offset="0.8047" stop-color="#67001f"/><stop offset="0.9971" stop-color="#67001f"/></linearGradient>
<linearGradient id="h36" gradientUnits="userSpaceOnUse" x1="125.0" x2="296.5" y1="0" y2="0"><stop offset="0" stop-color="#3681ba"/><stop offset="0.1749" stop-color="#3885bc"/><stop offset="0.2711" stop-color="#4393c3"/><stop offset="0.3149" stop-color="#59a1ca"/><stop offset="0.3586" stop-color="#7bb6d6"/><stop offset="0.4023" stop-color="#a7d0e4"/><stop offset="0.4461" stop-color="#ddebf2"/><stop offset="0.4723" stop-color="#f7f6f6"/><stop offset="0.4898" stop-color="#f9ede5"/><stop offset="0.5073" stop-color="#fddcc9"/><stop offset="0.5248" stop-color="#f8bda1"/><stop offset="0.5335" stop-color="#f4a683"/><stop offset="0.5423" stop-color="#e6866a"/><stop offset="0.551" stop-color="#de735c"/><stop offset="0.5773" stop-color="#ce4f45"/><stop offset="0.5948" stop-color="#c13639"/><stop offset="0.6385" stop-color="#b72230"/><stop offset="0.6472" stop-color="#b3192c"/><stop offset="0.691" stop-color="#900d26"/><stop offset="0.7259" stop-color="#760521"/><stop offset="0.7609" stop-color="#67001f"/><stop offset="0.9971" stop-color="#67001f"/></linearGradient>
<linearGradient id="h37" gradientUnits="userSpaceOnUse" x1="125.0" x2="296.5" y1="0" y2="0"><stop offset="0" stop-color="#3783bb"/><stop offset="0.1749" stop-color="#3b88be"/><stop offset="0.2536" stop-color="#4393c3"/><stop offset="0.2974" stop-color="#569fc9"/><stop offset="0.3324" stop-color="#6bacd1"/><stop offset="0.4023" stop-color="#b1d5e7"/><stop offset="0.4373" stop-color="#d8e9f1"/><stop offset="0.4636" stop-color="#f3f5f6"/><stop offset="0.481" stop-color="#f9efe9"/><stop offset="0.5073" stop-color="#fcd7c2"/><stop offset="0.5248" stop-color="#f7b596"/><stop offset="0.5335" stop-color="#ef9979"/><stop offset="0.5423" stop-color="#e27b62"/><stop offset="0.5685" stop-color="#d25849"/><stop offset="0.5948" stop-color="#bf3338"/><stop offset="0.6297" stop-color="#b82531"/><stop offset="0.6472" stop-color="#b3192c"/><stop offset="0.6735" stop-color="#9c1127"/><stop offset="0.7347" stop-color="#700320"/><stop offset="0.7697" stop-color="#67001f"/><stop offset="0.9971" stop-color="#67001f"/></linearGradient>
<linearGradient id="h38" gradientUnits="userSpaceOnUse" x1="125.0" x2="296.5" y1="0" y2="0"><stop offset="0" stop-color="#3a87bd"/><stop offset="0.1749" stop-color="#3e8cbf"/><stop offset="0.2449" stop-color="#4695c4"/><stop offset="0.2974" stop-color="#5ca3cb"/><stop offset="0.3411" stop-color="#7bb6d6"/><stop offset="0.4023" stop-color="#b8d8e9"/><stop offset="0.4636" stop-color="#f7f6f6"/><stop offset="0.481" stop-color="#f9ede5"/><stop offset="0.4985" stop-color="#fdddcb"/><stop offset="0.516" stop-color="#f8bfa4"/><stop offset="0.5248" stop-color="#f5aa89"/><stop offset="0.5335" stop-color="#e98b6e"/><stop offset="0.5423" stop-color="#df765e"/><stop offset="0.5685" stop-color="#cf5246"/><stop offset="0.586" stop-color="#c2383a"/><stop offset="0.6297" stop-color="#b72230"/><stop offset="0.6472" stop-color="#ae172a"/><stop offset="0.7172" stop-color="#790622"/><stop offset="0.7522" stop-color="#67001f"/><stop offset="0.9971" stop-color="#67001f"/></linearGradient>
<linearGradient id="h39" gradientUnits="userSpaceOnUse" x1="125.0" x2="296.5" y1="0" y2="0"><stop offset="0" stop-color="#3c8abe"/><stop offset="0.1749" stop-color="#408fc1"/><stop offset="0.2187" stop-color="#4695c4"/><stop offset="0.2536" stop-color="#4f9bc7"/><stop offset="0.2974" stop-color="#65a9cf"/><stop offset="0.3411" stop-color="#84bcd9"/><stop offset="0.3936" stop-color="#b6d7e8"/><stop offset="0.4286" stop-color="#dbeaf2"/><stop offset="0.4548" stop-color="#f3f5f6"/><stop offset="0.4636" stop-color="#f8f4f2"/><stop offset="0.481" stop-color="#fae9df"/><stop offset="0.4985" stop-color="#fcd7c2"/><stop offset="0.516" stop-color="#f7b799"/><stop offset="0.5248" stop-color="#f19e7d"/><stop offset="0.5335" stop-color="#e37e64"/><stop offset="0.5598" stop-color="#d35a4a"/><stop offset="0.586" stop-color="#c13639"/><stop offset="0.621" stop-color="#b82531"/><stop offset="0.6385" stop-color="#b1182b"/><stop offset="0.6822" stop-color="#8d0c25"/><stop offset="0.7347" stop-color="#6d0220"/><stop offset="0.7609" stop-color="#67001f"/><stop offset="0.9971" stop-color="#67001f"/></linearGradient>
<linearGradient id="h40" gradientUnits="userSpaceOnUse" x1="125.0" x2="296.5" y1="0" y2="0"><stop offset="0" stop-color="#3f8ec0"/><stop offset="0.1749" stop-color="#4393c3"/><stop offset="0.2274" stop-color="#4f9bc7"/><stop offset="0.2799" stop-color="#62a7ce"/><stop offset="0.3324" stop-color="#84bcd9"/><stop offset="0.3848" stop-color="#b3d6e8"/><stop offset="0.4198" stop-color="#d8e9f1"/><stop offset="0.4548" stop-color="#f7f6f6"/><stop offset="0.481" stop-color="#fbe6da"/><stop offset="0.4985" stop-color="#fbd0b9"/><stop offset="0.5073" stop-color="#f9c2a7"/><stop offset="0.516" stop-color="#f5ac8b"/><stop offset="0.5248" stop-color="#eb9172"/><stop offset="0.5335" stop-color="#e17860"/><stop offset="0.551" stop-color="#d6604d"/><stop offset="0.5773" stop-color="#c43b3c"/><stop offset="0.586" stop-color="#bf3338"/><stop offset="0.6297" stop-color="#b3192c"/><stop offset="0.6997" stop-color="#7c0722"/><stop offset="0.7434" stop-color="#67001f"/><stop offset="0.9971" stop-color="#67001f"/></linearGradient>
<linearGradient id="h41" gradientUnits="userSpaceOnUse" x1="125.0" x2="296.5" y1="0" y2="0"><stop offset="0" stop-color="#4291c2"/><stop offset="0.1224" stop-color="#4393c3"/><stop offset="0.2012" stop-color="#4f9bc7"/><stop offset="0.2536" stop-color="#5fa5cd"/><stop offset="0.3149" stop-color="#81bad8"/><stop offset="0.3848" stop-color="#bddbea"/><stop offset="0.4198" stop-color="#e0ecf3"/><stop offset="0.4461" stop-color="#f7f6f6"/><stop offset="0.4636" stop-color="#f9eee7"/><stop offset="0.481" stop-color="#fcdecd"/><stop offset="0.4985" stop-color="#f9c4a9"/><stop offset="0.5073" stop-color="#f6b191"/><stop offset="0.516" stop-color="#ec9374"/><stop offset="0.5248" stop-color="#e17860"/><stop offset="0.5598" stop-color="#cb4942"/><stop offset="0.5773" stop-color="#bf3338"/><stop offset="0.621" stop-color="#b3192c"/><stop offset="0.6647" stop-color="#900d26"/><stop offset="0.7172" stop-color="#700320"/><stop offset="0.7522" stop-color="#67001f"/><stop offset="0.9971" stop-color="#67001f"/></linearGradient>
<linearGradient id="h42" gradientUnits="userSpaceOnUse" x1="125.0" x2="296.5" y1="0" y2="0"><stop offset="0" stop-color="#4695c4"/><stop offset="0.07872" stop-color="#4695c4"/><stop offset="0.1662" stop-color="#4f9bc7"/><stop offset="0.2187" stop-color="#5ca3cb"/><stop offset="0.2711" stop-color="#71b0d3"/><stop offset="0.3149" stop-color="#8dc2dc"/><stop offset="0.3761" stop-color="#c2ddec"/><stop offset="0.4286" stop-color="#f2f5f6"/><stop offset="0.4373" stop-color="#f7f5f4"/><stop offset="0.4548" stop-color="#f9ede5"/><stop offset="0.4723" stop-color="#fcdfcf"/><stop offset="0.4898" stop-color="#f9c2a7"/><stop offset="0.4985" stop-color="#f5aa89"/><stop offset="0.5073" stop-color="#e98b6e"/><stop offset="0.516" stop-color="#df765e"/><stop offset="0.551" stop-color="#c94741"/><stop offset="0.5685" stop-color="#bf3338"/><stop offset="0.6122" stop-color="#b3192c"/><stop offset="0.656" stop-color="#900d26"/><stop offset="0.7085" stop-color="#700320"/><stop offset="0.7434" stop-color="#67001f"/><stop offset="0.9971" stop-color="#67001f"/></linearGradient>
<linearGradient id="h43" gradientUnits="userSpaceOnUse" x1="125.0" x2="296.5" y1="0" y2="0"><stop offset="0" stop-color="#4c99c6"/><stop offset="0.07872" stop-color="#4c99c6"/><stop offset="0.1662" stop-color="#569fc9"/><stop offset="0.2536" stop-color="#71b0d3"/><stop offset="0.3236" stop-color="#a0cce2"/><stop offset="0.3936" stop-color="#deebf2"/><stop offset="0.4198" stop-color="#f5f6f7"/><stop offset="0.4461" stop-color="#f9ebe3"/><stop offset="0.4723" stop-color="#fcd3bc"/><stop offset="0.4898" stop-color="#f6b394"/><stop offset="0.4985" stop-color="#ee9677"/><stop offset="0.5073" stop-color="#e17860"/><stop offset="0.5335" stop-color="#ce4f45"/><stop offset="0.551" stop-color="#c2383a"/><stop offset="0.6035" stop-color="#b3192c"/><stop offset="0.6472" stop-color="#900d26"/><stop offset="0.7085" stop-color="#6d0220"/><stop offset="0.7347" stop-color="#67001f"/><stop offset="0.9971" stop-color="#67001f"/></linearGradient>
<linearGradient id="h44" gradientUnits="userSpaceOnUse" x1="125.0" x2="296.5" y1="0" y2="0"><stop offset="0" stop-color="#529dc8"/><stop offset="0.07872" stop-color="#529dc8"/><stop offset="0.1749" stop-color="#5fa5cd"/><stop offset="0.2187" stop-color="#6bacd1"/><stop offset="0.2711" stop-color="#87beda"/><stop offset="0.3149" stop-color="#a5cee3"/><stop offset="0.4023" stop-color="#f0f4f6"/><stop offset="0.4111" stop-color="#f7f6f6"/><stop offset="0.4373" stop-color="#fae9df"/><stop offset="0.4548" stop-color="#fddbc7"/><stop offset="0.4723" stop-color="#f8bfa4"/><stop offset="0.481" stop-color="#f6af8e"/><stop offset="0.4985" stop-color="#e27b62"/><stop offset="0.5248" stop-color="#d25849"/><stop offset="0.5423" stop-color="#c43b3c"/><stop offset="0.5598" stop-color="#bd2d35"/><stop offset="0.586" stop-color="#b61f2e"/><stop offset="0.5948" stop-color="#b1182b"/><stop offset="0.6297" stop-color="#960f27"/><stop offset="0.691" stop-color="#730421"/><stop offset="0.7347" stop-color="#67001f"/><stop offset="0.9971" stop-color="#67001f"/></linearGradient>
<linearGradient id="h45" gradientUnits="userSpaceOnUse" x1="125.0" x2="296.5" y1="0" y2="0"><stop offset="0" stop-color="#59a1ca"/><stop offset="0.07872" stop-color="#59a1ca"/><stop offset="0.1662" stop-color="#65a9cf"/><stop offset="0.2187" stop-color="#75b2d4"/><stop offset="0.2624" stop-color="#8dc2dc"/><stop offset="0.3061" stop-color="#a9d1e5"/><stop offset="0.3586" stop-color="#d7e8f1"/><stop offset="0.3936" stop-color="#f3f5f6"/><stop offset="0.4023" stop-color="#f7f5f4"/><stop offset="0.4286" stop-color="#fae7dc"/><stop offset="0.4461" stop-color="#fcd7c2"/><stop offset="0.4636" stop-color="#f8bda1"/><stop offset="0.4723" stop-color="#f5a886"/><stop offset="0.4898" stop-color="#e17860"/><stop offset="0.5248" stop-color="#ce4f45"/><stop offset="0.5423" stop-color="#c13639"/><stop offset="0.586" stop-color="#b3192c"/><stop offset="0.656" stop-color="#810823"/><stop offset="0.7085" stop-color="#6a011f"/><stop offset="0.7609" stop-color="#67001f"/><stop offset="0.9971" stop-color="#67001f"/></linearGradient>
<linearGradient id="h46" gradientUnits="userSpaceOnUse" x1="125.0" x2="296.5" y1="0" y2="0"><stop offset="0" stop-color="#5fa5cd"/><stop offset="0.07872" stop-color="#5fa5cd"/><stop offset="0.1662" stop-color="#6bacd1"/><stop offset="0.2187" stop-color="#7eb8d7"/><stop offset="0.2886" stop-color="#a7d0e4"/><stop offset="0.3673" stop-color="#e7f0f4"/><stop offset="0.3848" stop-color="#f6f7f7"/><stop offset="0.4111" stop-color="#f9ebe3"/><stop offset="0.4373" stop-color="#fcd3bc"/><stop offset="0.4548" stop-color="#f7b99c"/><stop offset="0.4636" stop-color="#f3a481"/><stop offset="0.4723" stop-color="#e8896c"/><stop offset="0.481" stop-color="#df765e"/><stop offset="0.516" stop-color="#ce4f45"/><stop offset="0.5423" stop-color="#be3036"/><stop offset="0.586" stop-color="#ae172a"/><stop offset="0.6385" stop-color="#870a24"/><stop offset="0.6997" stop-color="#6a011f"/><stop offset="0.8134" stop-color="#67001f"/><stop offset="0.9971" stop-color="#67001f"/></linearGradient>
<linearGradient id="h47" gradientUnits="userSpaceOnUse" x1="125.0" x2="296.5" y1="0" y2="0"><stop offset="0" stop-color="#65a9cf"/><stop offset="0.07872" stop-color="#65a9cf"/><stop offset="0.1574" stop-color="#71b0d3"/><stop offset="0.2099" stop-color="#81bad8"/><stop offset="0.2799" stop-color="#a7d0e4"/><stop offset="0.3411" stop-color="#d7e8f1"/><stop offset="0.3848" stop-color="#f7f6f6"/><stop offset="0.4023" stop-color="#f9eee7"/><stop offset="0.4286" stop-color="#fcd5bf"/><stop offset="0.4461" stop-color="#f7b799"/><stop offset="0.4548" stop-color="#f19e7d"/><stop offset="0.4636" stop-color="#e58368"/><stop offset="0.4723" stop-color="#de735c"/><stop offset="0.4985" stop-color="#d05548"/><stop offset="0.5248" stop-color="#c13639"/><stop offset="0.5598" stop-color="#b72230"/><stop offset="0.5685" stop-color="#b3192c"/><stop offset="0.6122" stop-color="#930e26"/><stop offset="0.6735" stop-color="#730421"/><stop offset="0.7172" stop-color="#67001f"/><stop offset="0.9971" stop-color="#67001f"/></linearGradient>
<linearGradient id="h48" gradientUnits="userSpaceOnUse" x1="125.0" x2="296.5" y1="0" y2="0"><stop offset="0" stop-color="#6bacd1"/><stop offset="0.08746" stop-color="#6bacd1"/><stop offset="0.1574" stop-color="#78b4d5"/><stop offset="0.2012" stop-color="#84bcd9"/><stop offset="0.2711" stop-color="#a7d0e4"/><stop offset="0.3761" stop-color="#f3f5f6"/><stop offset="0.4023" stop-color="#f9ebe3"/><stop offset="0.4198" stop-color="#fdddcb"/><stop offset="0.4373" stop-color="#f9c4a9"/><stop offset="0.4548" stop-color="#ef9979"/><stop offset="0.4636" stop-color="#e27b62"/><stop offset="0.4985" stop-color="#ce4f45"/><stop offset="0.5248" stop-color="#be3036"/><stop offset="0.5598" stop-color="#b41c2d"/><stop offset="0.5773" stop-color="#a81529"/><stop offset="0.6297" stop-color="#840924"/><stop offset="0.6822" stop-color="#6d0220"/><stop offset="0.7085" stop-color="#67001f"/><stop offset="0.9971" stop-color="#67001f"/></linearGradient>
<linearGradient id="h49" gradientUnits="userSpaceOnUse" x1="125.0" x2="296.5" y1="0" y2="0"><stop offset="0" stop-color="#71b0d3"/><stop offset="0.07872" stop-color="#71b0d3"/><stop offset="0.1574" stop-color="#7eb8d7"/><stop offset="0.2449" stop-color="#a0cce2"/><stop offset="0.2974" stop-color="#c0dceb"/><stop offset="0.3324" stop-color="#d8e9f1"/><stop offset="0.3761" stop-color="#f6f7f7"/><stop offset="0.4023" stop-color="#faeae1"/><stop offset="0.4198" stop-color="#fddbc7"/><stop offset="0.4373" stop-color="#f8bfa4"/><stop offset="0.4461" stop-color="#f5ac8b"/><stop offset="0.4548" stop-color="#eb9172"/><stop offset="0.4636" stop-color="#e17860"/><stop offset="0.4898" stop-color="#d25849"/><stop offset="0.5248" stop-color="#bd2d35"/><stop offset="0.5598" stop-color="#b1182b"/><stop offset="0.6122" stop-color="#8a0b25"/><stop offset="0.6735" stop-color="#6d0220"/><stop offset="0.7172" stop-color="#67001f"/><stop offset="0.9971" stop-color="#67001f"/></linearGradient>
<linearGradient id="h50" gradientUnits="userSpaceOnUse" x1="125.0" x2="296.5" y1="0" y2="0"><stop offset="0" stop-color="#78b4d5"/><stop offset="0.07872" stop-color="#78b4d5"/><stop offset="0.1399" stop-color="#81bad8"/><stop offset="0.2187" stop-color="#98c8e0"/><stop offset="0.2974" stop-color="#c5dfec"/><stop offset="0.3324" stop-color="#dbeaf2"/><stop offset="0.3761" stop-color="#f7f6f6"/><stop offset="0.4023" stop-color="#fae8de"/><stop offset="0.4198" stop-color="#fdd9c4"/><stop offset="0.4373" stop-color="#f8bb9e"/><stop offset="0.4461" stop-color="#f4a683"/><stop offset="0.4548" stop-color="#e98b6e"/><stop offset="0.4636" stop-color="#df765e"/><stop offset="0.481" stop-color="#d6604d"/><stop offset="0.4898" stop-color="#d25849"/><stop offset="0.516" stop-color="#be3036"/><stop offset="0.551" stop-color="#b3192c"/><stop offset="0.621" stop-color="#810823"/><stop offset="0.691" stop-color="#67001f"/><stop offset="0.9971" stop-color="#67001f"/></linearGradient>
<linearGradient id="h51" gradientUnits="userSpaceOnUse" x1="125.0" x2="296.5" y1="0" y2="0"><stop offset="0" stop-color="#7eb8d7"/><stop offset="0.07872" stop-color="#7eb8d7"/><stop offset="0.1487" stop-color="#8ac0db"/><stop offset="0.2274" stop-color="#a2cde3"/><stop offset="0.2974" stop-color="#cae1ee"/><stop offset="0.3673" stop-color="#f3f5f6"/><stop offset="0.3761" stop-color="#f7f5f4"/><stop offset="0.3936" stop-color="#f9ede5"/><stop offset="0.4198" stop-color="#fcd5bf"/><stop offset="0.4373" stop-color="#f7b799"/><stop offset="0.4461" stop-color="#f2a17f"/><stop offset="0.4548" stop-color="#e6866a"/><stop offset="0.4636" stop-color="#de735c"/><stop offset="0.481" stop-color="#d6604d"/><stop offset="0.516" stop-color="#bb2a34"/><stop offset="0.551" stop-color="#ae172a"/><stop offset="0.6035" stop-color="#870a24"/><stop offset="0.656" stop-color="#700320"/><stop offset="0.691" stop-color="#67001f"/><stop offset="0.9971" stop-color="#67001f"/></linearGradient>
<linearGradient id="h52" gradientUnits="userSpaceOnUse" x1="125.0" x2="296.5" y1="0" y2="0"><stop offset="0" stop-color="#84bcd9"/><stop offset="0.07872" stop-color="#84bcd9"/><stop offset="0.1487" stop-color="#90c4dd"/><stop offset="0.2187" stop-color="#a5cee3"/><stop offset="0.2624" stop-color="#b8d8e9"/><stop offset="0.3411" stop-color="#e6eff4"/><stop offset="0.3673" stop-color="#f5f6f7"/><stop offset="0.3936" stop-color="#f9ebe3"/><stop offset="0.4111" stop-color="#fdddcb"/><stop offset="0.4286" stop-color="#f9c4a9"/><stop offset="0.4373" stop-color="#f6b394"/><stop offset="0.4461" stop-color="#f09c7b"/><stop offset="0.4548" stop-color="#e37e64"/><stop offset="0.4898" stop-color="#ce4f45"/><stop offset="0.516" stop-color="#ba2832"/><stop offset="0.5423" stop-color="#b1182b"/><stop offset="0.5948" stop-color="#8a0b25"/><stop offset="0.6472" stop-color="#700320"/><stop offset="0.691" stop-color="#67001f"/><stop offset="0.9971" stop-color="#67001f"/></linearGradient>
<linearGradient id="h53" gradientUnits="userSpaceOnUse" x1="125.0" x2="296.5" y1="0" y2="0"><stop offset="0" stop-color="#8ac0db"/><stop offset="0.06997" stop-color="#8ac0db"/><stop offset="0.1574" stop-color="#98c8e0"/><stop offset="0.2362" stop-color="#b1d5e7"/><stop offset="0.3673" stop-color="#f7f6f6"/><stop offset="0.3936" stop-color="#fae9df"/><stop offset="0.4111" stop-color="#fddbc7"/><stop offset="0.4286" stop-color="#f8bfa4"/><stop offset="0.4373" stop-color="#f6af8e"/><stop offset="0.4461" stop-color="#ec9374"/><stop offset="0.4548" stop-color="#e27b62"/><stop offset="0.481" stop-color="#d25849"/><stop offset="0.516" stop-color="#b72230"/><stop offset="0.5423" stop-color="#ab162a"/><stop offset="0.586" stop-color="#8a0b25"/><stop offset="0.6297" stop-color="#760521"/><stop offset="0.6822" stop-color="#67001f"/><stop offset="0.9971" stop-color="#67001f"/></linearGradient>
<linearGradient id="h54" gradientUnits="userSpaceOnUse" x1="125.0" x2="296.5" y1="0" y2="0"><stop offset="0" stop-color="#90c4dd"/><stop offset="0.09621" stop-color="#93c6de"/><stop offset="0.1749" stop-color="#a2cde3"/><stop offset="0.2274" stop-color="#b3d6e8"/><stop offset="0.3586" stop-color="#f3f5f6"/><stop offset="0.3673" stop-color="#f7f5f4"/><stop offset="0.3848" stop-color="#f9eee7"/><stop offset="0.4111" stop-color="#fcd7c2"/><stop offset="0.4286" stop-color="#f8bda1"/><stop offset="0.4373" stop-color="#f5a886"/><stop offset="0.4461" stop-color="#ea8e70"/><stop offset="0.4548" stop-color="#e17860"/><stop offset="0.481" stop-color="#cf5246"/><stop offset="0.516" stop-color="#b61f2e"/><stop offset="0.5423" stop-color="#a81529"/><stop offset="0.586" stop-color="#870a24"/><stop offset="0.6385" stop-color="#700320"/><stop offset="0.6822" stop-color="#67001f"/><stop offset="0.9971" stop-color="#67001f"/></linearGradient>
<linearGradient id="h55" gradientUnits="userSpaceOnUse" x1="125.0" x2="296.5" y1="0" y2="0"><stop offset="0" stop-color="#96c7df"/><stop offset="0.09621" stop-color="#98c8e0"/><stop offset="0.1749" stop-color="#a7d0e4"/><stop offset="0.2624" stop-color="#cce2ef"/><stop offset="0.3499" stop-color="#f5f6f7"/><stop offset="0.3761" stop-color="#f9ede5"/><stop offset="0.3848" stop-color="#fae7dc"/><stop offset="0.4111" stop-color="#f9c6ac"/><stop offset="0.4198" stop-color="#f7b799"/><stop offset="0.4286" stop-color="#f2a17f"/><stop offset="0.4373" stop-color="#e8896c"/><stop offset="0.4461" stop-color="#df765e"/><stop offset="0.4723" stop-color="#cf5246"/><stop offset="0.4985" stop-color="#bb2a34"/><stop offset="0.5248" stop-color="#b1182b"/><stop offset="0.586" stop-color="#840924"/><stop offset="0.6647" stop-color="#67001f"/><stop offset="0.9971" stop-color="#67001f"/></linearGradient>
<linearGradient id="h56" gradientUnits="userSpaceOnUse" x1="125.0" x2="296.5" y1="0" y2="0"><stop offset="0" stop-color="#9bc9e0"/><stop offset="0.08746" stop-color="#9dcbe1"/><stop offset="0.1662" stop-color="#acd2e5"/><stop offset="0.2274" stop-color="#c2ddec"/><stop offset="0.2711" stop-color="#d7e8f1"/><stop offset="0.3411" stop-color="#f7f6f6"/><stop offset="0.3673" stop-color="#f9ebe3"/><stop offset="0.3936" stop-color="#fcd7c2"/><stop offset="0.4111" stop-color="#f7b99c"/><stop offset="0.4198" stop-color="#f2a17f"/><stop offset="0.4286" stop-color="#e48066"/><stop offset="0.4548" stop-color="#d55d4c"/><stop offset="0.4898" stop-color="#bb2a34"/><stop offset="0.516" stop-color="#b1182b"/><stop offset="0.5773" stop-color="#870a24"/><stop offset="0.6472" stop-color="#6a011f"/><stop offset="0.7609" stop-color="#67001f"/><stop offset="0.9971" stop-color="#67001f"/></linearGradient>
<linearGradient id="h57" gradientUnits="userSpaceOnUse" x1="125.0" x2="296.5" y1="0" y2="0"><stop offset="0" stop-color="#a0cce2"/><stop offset="0.08746" stop-color="#a2cde3"/><stop offset="0.1574" stop-color="#b1d5e7"/><stop offset="0.2099" stop-color="#c2ddec"/><stop offset="0.3236" stop-color="#f3f5f6"/><stop offset="0.3499" stop-color="#f9efe9"/><stop offset="0.3673" stop-color="#fbe4d6"/><stop offset="0.3848" stop-color="#fcd5bf"/><stop offset="0.4023" stop-color="#f8bb9e"/><stop offset="0.4111" stop-color="#f5a886"/><stop offset="0.4286" stop-color="#df765e"/><stop offset="0.4548" stop-color="#cf5246"/><stop offset="0.481" stop-color="#bb2a34"/><stop offset="0.516" stop-color="#ae172a"/><stop offset="0.5773" stop-color="#840924"/><stop offset="0.656" stop-color="#67001f"/><stop offset="0.9971" stop-color="#67001f"/></linearGradient>
<linearGradient id="h58" gradientUnits="userSpaceOnUse" x1="125.0" x2="296.5" y1="0" y2="0"><stop offset="0" stop-color="#a5cee3"/><stop offset="0.07872" stop-color="#a7d0e4"/><stop offset="0.1662" stop-color="#b8d8e9"/><stop offset="0.3061" stop-color="#f0f4f6"/><stop offset="0.3236" stop-color="#f7f5f4"/><stop offset="0.3499" stop-color="#fae8de"/><stop offset="0.3673" stop-color="#fddcc9"/><stop offset="0.3936" stop-color="#f7b99c"/><stop offset="0.4023" stop-color="#f4a683"/><stop offset="0.4198" stop-color="#e17860"/><stop offset="0.4373" stop-color="#d86551"/><stop offset="0.4723" stop-color="#bd2d35"/><stop offset="0.5073" stop-color="#b1182b"/><stop offset="0.5685" stop-color="#870a24"/><stop offset="0.6297" stop-color="#6d0220"/><stop offset="0.6735" stop-color="#67001f"/><stop offset="0.9971" stop-color="#67001f"/></linearGradient>
<linearGradient id="h59" gradientUnits="userSpaceOnUse" x1="125.0" x2="296.5" y1="0" y2="0"><stop offset="0" stop-color="#a9d1e5"/><stop offset="0.07872" stop-color="#acd2e5"/><stop offset="0.1487" stop-color="#bbdaea"/><stop offset="0.2012" stop-color="#cce2ef"/><stop offset="0.2974" stop-color="#f0f4f6"/><stop offset="0.3149" stop-color="#f7f5f4"/><stop offset="0.3411" stop-color="#fae8de"/><stop offset="0.3586" stop-color="#fddbc7"/><stop offset="0.3848" stop-color="#f6b394"/><stop offset="0.3936" stop-color="#f2a17f"/><stop offset="0.4023" stop-color="#e8896c"/><stop offset="0.4111" stop-color="#e17860"/><stop offset="0.4461" stop-color="#ce4f45"/><stop offset="0.4723" stop-color="#bb2a34"/><stop offset="0.5073" stop-color="#ae172a"/><stop offset="0.5598" stop-color="#8a0b25"/><stop offset="0.6122" stop-color="#730421"/><stop offset="0.656" stop-color="#67001f"/><stop offset="0.9971" stop-color="#67001f"/></linearGradient>
<linearGradient id="h60" gradientUnits="userSpaceOnUse" x1="125.0" x2="296.5" y1="0" y2="0"><stop offset="0" stop-color="#aed3e6"/><stop offset="0.07872" stop-color="#b1d5e7"/><stop offset="0.1662" stop-color="#c5dfec"/><stop offset="0.2886" stop-color="#f0f4f6"/><stop offset="0.3061" stop-color="#f7f5f4"/><stop offset="0.3324" stop-color="#fae8de"/><stop offset="0.3499" stop-color="#fddbc7"/><stop offset="0.3761" stop-color="#f6b394"/><stop offset="0.3848" stop-color="#f09c7b"/><stop offset="0.3936" stop-color="#e58368"/><stop offset="0.4023" stop-color="#df765e"/><stop offset="0.4373" stop-color="#ce4f45"/><stop offset="0.4636" stop-color="#bd2d35"/><stop offset="0.4985" stop-color="#b1182b"/><stop offset="0.5598" stop-color="#870a24"/><stop offset="0.6472" stop-color="#67001f"/><stop offset="0.9971" stop-color="#67001f"/></linearGradient>
<linearGradient id="h61" gradientUnits="userSpaceOnUse" x1="125.0" x2="296.5" y1="0" y2="0"><stop offset="0" stop-color="#b3d6e8"/><stop offset="0.06997" stop-color="#b6d7e8"/><stop offset="0.1574" stop-color="#c7e0ed"/><stop offset="0.2799" stop-color="#f0f4f6"/><stop offset="0.2974" stop-color="#f7f6f6"/><stop offset="0.3236" stop-color="#fae9df"/><stop offset="0.3411" stop-color="#fddcc9"/><stop offset="0.3673" stop-color="#f7b596"/><stop offset="0.3761" stop-color="#f2a17f"/><stop offset="0.3848" stop-color="#e6866a"/><stop offset="0.3936" stop-color="#df765e"/><stop offset="0.4286" stop-color="#ce4f45"/><stop offset="0.4548" stop-color="#bd2d35"/><stop offset="0.4985" stop-color="#ae172a"/><stop offset="0.551" stop-color="#8a0b25"/><stop offset="0.621" stop-color="#6d0220"/><stop offset="0.6647" stop-color="#67001f"/><stop offset="0.9971" stop-color="#67001f"/></linearGradient>
<linearGradient id="h62" gradientUnits="userSpaceOnUse" x1="125.0" x2="296.5" y1="0" y2="0"><stop offset="0" stop-color="#b8d8e9"/><stop offset="0.06997" stop-color="#bbdaea"/><stop offset="0.1574" stop-color="#cfe4ef"/><stop offset="0.2624" stop-color="#edf2f5"/><stop offset="0.2886" stop-color="#f7f6f6"/><stop offset="0.3149" stop-color="#faeae1"/><stop offset="0.3324" stop-color="#fdddcb"/><stop offset="0.3586" stop-color="#f7b799"/><stop offset="0.3673" stop-color="#f3a481"/><stop offset="0.3761" stop-color="#e98b6e"/><stop offset="0.3848" stop-color="#e17860"/><stop offset="0.4286" stop-color="#c84440"/><stop offset="0.4461" stop-color="#bd2d35"/><stop offset="0.4898" stop-color="#b1182b"/><stop offset="0.5423" stop-color="#8d0c25"/><stop offset="0.5948" stop-color="#760521"/><stop offset="0.6472" stop-color="#67001f"/><stop offset="0.9971" stop-color="#67001f"/></linearGradient>
<linearGradient id="h63" gradientUnits="userSpaceOnUse" x1="125.0" x2="296.5" y1="0" y2="0"><stop offset="0" stop-color="#bddbea"/><stop offset="0.07872" stop-color="#c2ddec"/><stop offset="0.2187" stop-color="#e1edf3"/><stop offset="0.2799" stop-color="#f7f6f6"/><stop offset="0.3061" stop-color="#faeae1"/><stop offset="0.3236" stop-color="#fdddcb"/><stop offset="0.3499" stop-color="#f8bb9e"/><stop offset="0.3586" stop-color="#f4a683"/><stop offset="0.3761" stop-color="#e17860"/><stop offset="0.4111" stop-color="#cf5246"/><stop offset="0.4373" stop-color="#be3036"/><stop offset="0.481" stop-color="#b1182b"/><stop offset="0.5423" stop-color="#8a0b25"/><stop offset="0.6122" stop-color="#6d0220"/><stop offset="0.656" stop-color="#67001f"/><stop offset="0.9971" stop-color="#67001f"/></linearGradient>
<linearGradient id="h64" gradientUnits="userSpaceOnUse" x1="125.0" x2="296.5" y1="0" y2="0"><stop offset="0" stop-color="#c2ddec"/><stop offset="0.07872" stop-color="#c7e0ed"/><stop offset="0.2187" stop-color="#e6eff4"/><stop offset="0.2711" stop-color="#f7f6f6"/><stop offset="0.2974" stop-color="#f9ebe3"/><stop offset="0.3236" stop-color="#fcd5bf"/><stop offset="0.3411" stop-color="#f8bb9e"/><stop offset="0.3499" stop-color="#f5aa89"/><stop offset="0.3586" stop-color="#eb9172"/><stop offset="0.3673" stop-color="#e27b62"/><stop offset="0.3936" stop-color="#d55d4c"/><stop offset="0.4286" stop-color="#bf3338"/><stop offset="0.481" stop-color="#ae172a"/><stop offset="0.5335" stop-color="#8d0c25"/><stop offset="0.586" stop-color="#760521"/><stop offset="0.6385" stop-color="#67001f"/><stop offset="0.9971" stop-color="#67001f"/></linearGradient>
<linearGradient id="h65" gradientUnits="userSpaceOnUse" x1="125.0" x2="296.5" y1="0" y2="0"><stop offset="0" stop-color="#c7e0ed"/><stop offset="0.08746" stop-color="#cfe4ef"/><stop offset="0.2099" stop-color="#e6eff4"/><stop offset="0.2624" stop-color="#f6f7f7"/><stop offset="0.2886" stop-color="#f9ebe3"/><stop offset="0.3149" stop-color="#fcd7c2"/><stop offset="0.3324" stop-color="#f8bda1"/><stop offset="0.3411" stop-color="#f5ac8b"/><stop offset="0.3586" stop-color="#e37e64"/><stop offset="0.3848" stop-color="#d6604d"/><stop offset="0.4286" stop-color="#be3036"/><stop offset="0.4723" stop-color="#b1182b"/><stop offset="0.5335" stop-color="#8a0b25"/><stop offset="0.6035" stop-color="#6d0220"/><stop offset="0.6472" stop-color="#67001f"/><stop offset="0.9971" stop-color="#67001f"/></linearGradient>
<linearGradient id="h66" gradientUnits="userSpaceOnUse" x1="125.0" x2="296.5" y1="0" y2="0"><stop offset="0" stop-color="#cce2ef"/><stop offset="0.1312" stop-color="#dae9f2"/><stop offset="0.2187" stop-color="#edf2f5"/><stop offset="0.2536" stop-color="#f7f5f4"/><stop offset="0.2799" stop-color="#f9ebe3"/><stop offset="0.3061" stop-color="#fcd5bf"/><stop offset="0.3236" stop-color="#f8bb9e"/><stop offset="0.3324" stop-color="#f5a886"/><stop offset="0.3411" stop-color="#ea8e70"/><stop offset="0.3499" stop-color="#e17860"/><stop offset="0.3848" stop-color="#d05548"/><stop offset="0.4111" stop-color="#c13639"/><stop offset="0.4636" stop-color="#b1182b"/><stop offset="0.5335" stop-color="#870a24"/><stop offset="0.6122" stop-color="#6a011f"/><stop offset="0.7259" stop-color="#67001f"/><stop offset="0.9971" stop-color="#67001f"/></linearGradient>
<linearGradient id="h67" gradientUnits="userSpaceOnUse" x1="125.0" x2="296.5" y1="0" y2="0"><stop offset="0" stop-color="#d2e6f0"/><stop offset="0.08746" stop-color="#d7e8f1"/><stop offset="0.1924" stop-color="#eaf1f5"/><stop offset="0.2362" stop-color="#f7f6f6"/><stop offset="0.2711" stop-color="#faeae1"/><stop offset="0.2974" stop-color="#fcd7c2"/><stop offset="0.3149" stop-color="#f8bda1"/><stop offset="0.3236" stop-color="#f5aa89"/><stop offset="0.3411" stop-color="#e27b62"/><stop offset="0.3673" stop-color="#d55d4c"/><stop offset="0.4023" stop-color="#c13639"/><stop offset="0.4548" stop-color="#b3192c"/><stop offset="0.516" stop-color="#8d0c25"/><stop offset="0.5948" stop-color="#6d0220"/><stop offset="0.6385" stop-color="#67001f"/><stop offset="0.9971" stop-color="#67001f"/></linearGradient>
<linearGradient id="h68" gradientUnits="userSpaceOnUse" x1="125.0" x2="296.5" y1="0" y2="0"><stop offset="0" stop-color="#d5e7f1"/><stop offset="0.105" stop-color="#ddebf2"/><stop offset="0.2099" stop-color="#f3f5f6"/><stop offset="0.2274" stop-color="#f7f5f4"/><stop offset="0.2711" stop-color="#fbe3d4"/><stop offset="0.2886" stop-color="#fcd7c2"/><stop offset="0.3061" stop-color="#f8bfa4"/><stop offset="0.3236" stop-color="#ef9979"/><stop offset="0.3324" stop-color="#e37e64"/><stop offset="0.3586" stop-color="#d6604d"/><stop offset="0.4023" stop-color="#be3036"/><stop offset="0.4548" stop-color="#b1182b"/><stop offset="0.5073" stop-color="#900d26"/><stop offset="0.5773" stop-color="#730421"/><stop offset="0.621" stop-color="#67001f"/><stop offset="0.9971" stop-color="#67001f"/></linearGradient>
<linearGradient id="h69" gradientUnits="userSpaceOnUse" x1="125.0" x2="296.5" y1="0" y2="0"><stop offset="0" stop-color="#d8e9f1"/><stop offset="0.08746" stop-color="#deebf2"/><stop offset="0.2012" stop-color="#f5f6f7"/><stop offset="0.2099" stop-color="#f7f6f6"/><stop offset="0.2449" stop-color="#fae9df"/><stop offset="0.2711" stop-color="#fddbc7"/><stop offset="0.2974" stop-color="#f8bda1"/><stop offset="0.3061" stop-color="#f6b191"/><stop offset="0.3236" stop-color="#e58368"/><stop offset="0.3411" stop-color="#db6b55"/><stop offset="0.3761" stop-color="#c94741"/><stop offset="0.3936" stop-color="#bf3338"/><stop offset="0.4461" stop-color="#b1182b"/><stop offset="0.5073" stop-color="#8d0c25"/><stop offset="0.5948" stop-color="#6a011f"/><stop offset="0.7085" stop-color="#67001f"/><stop offset="0.9971" stop-color="#67001f"/></linearGradient>
<linearGradient id="h70" gradientUnits="userSpaceOnUse" x1="125.0" x2="296.5" y1="0" y2="0"><stop offset="0" stop-color="#dbeaf2"/><stop offset="0.1224" stop-color="#e7f0f4"/><stop offset="0.1924" stop-color="#f6f7f7"/><stop offset="0.2274" stop-color="#f9ebe3"/><stop offset="0.2536" stop-color="#fdddcb"/><stop offset="0.2886" stop-color="#f7b99c"/><stop offset="0.3061" stop-color="#ef9979"/><stop offset="0.3149" stop-color="#e58368"/><stop offset="0.3236" stop-color="#df765e"/><stop offset="0.3586" stop-color="#cf5246"/><stop offset="0.3848" stop-color="#bf3338"/><stop offset="0.4373" stop-color="#b3192c"/><stop offset="0.5073" stop-color="#8a0b25"/><stop offset="0.5948" stop-color="#6a011f"/><stop offset="0.7085" stop-color="#67001f"/><stop offset="0.9971" stop-color="#67001f"/></linearGradient>
<linearGradient id="h71" gradientUnits="userSpaceOnUse" x1="125.0" x2="296.5" y1="0" y2="0"><stop offset="0" stop-color="#e0ecf3"/><stop offset="0.105" stop-color="#e9f0f4"/><stop offset="0.1749" stop-color="#f6f7f7"/><stop offset="0.2099" stop-color="#f9ede5"/><stop offset="0.2449" stop-color="#fdd9c4"/><stop offset="0.2711" stop-color="#f8bda1"/><stop offset="0.2886" stop-color="#f2a17f"/><stop offset="0.3061" stop-color="#e37e64"/><stop offset="0.3499" stop-color="#d05548"/><stop offset="0.3848" stop-color="#be3036"/><stop offset="0.4373" stop-color="#b1182b"/><stop offset="0.4898" stop-color="#900d26"/><stop offset="0.5773" stop-color="#6d0220"/><stop offset="0.621" stop-color="#67001f"/><stop offset="0.9971" stop-color="#67001f"/></linearGradient>
<linearGradient id="h72" gradientUnits="userSpaceOnUse" x1="125.0" x2="296.5" y1="0" y2="0"><stop offset="0" stop-color="#e4eef4"/><stop offset="0.105" stop-color="#edf2f5"/><stop offset="0.1574" stop-color="#f6f7f7"/><stop offset="0.2012" stop-color="#faeae1"/><stop offset="0.2362" stop-color="#fcd5bf"/><stop offset="0.2624" stop-color="#f7b799"/><stop offset="0.2799" stop-color="#ef9979"/><stop offset="0.2886" stop-color="#e6866a"/><stop offset="0.2974" stop-color="#e17860"/><stop offset="0.3411" stop-color="#d05548"/><stop offset="0.3848" stop-color="#bd2d35"/><stop offset="0.4286" stop-color="#b1182b"/><stop offset="0.481" stop-color="#930e26"/><stop offset="0.551" stop-color="#760521"/><stop offset="0.6035" stop-color="#67001f"/><stop offset="0.9971" stop-color="#67001f"/></linearGradient>
<linearGradient id="h73" gradientUnits="userSpaceOnUse" x1="125.0" x2="296.5" y1="0" y2="0"><stop offset="0" stop-color="#e7f0f4"/><stop offset="0.1224" stop-color="#f3f5f6"/><stop offset="0.1487" stop-color="#f7f6f6"/><stop offset="0.1837" stop-color="#f9ebe3"/><stop offset="0.2187" stop-color="#fdd9c4"/><stop offset="0.2449" stop-color="#f8bda1"/><stop offset="0.2624" stop-color="#f2a17f"/><stop offset="0.2799" stop-color="#e37e64"/><stop offset="0.3236" stop-color="#d35a4a"/><stop offset="0.3673" stop-color="#bf3338"/><stop offset="0.4198" stop-color="#b3192c"/><stop offset="0.4985" stop-color="#870a24"/><stop offset="0.5773" stop-color="#6a011f"/><stop offset="0.691" stop-color="#67001f"/><stop offset="0.9971" stop-color="#67001f"/></linearGradient>
<linearGradient id="h74" gradientUnits="userSpaceOnUse" x1="125.0" x2="296.5" y1="0" y2="0"><stop offset="0" stop-color="#ecf2f5"/><stop offset="0.1312" stop-color="#f7f6f6"/><stop offset="0.1662" stop-color="#f9ede5"/><stop offset="0.2012" stop-color="#fddbc7"/><stop offset="0.2362" stop-color="#f7b799"/><stop offset="0.2536" stop-color="#ef9979"/><stop offset="0.2624" stop-color="#e6866a"/><stop offset="0.2711" stop-color="#e17860"/><stop offset="0.3236" stop-color="#ce4f45"/><stop offset="0.3586" stop-color="#bf3338"/><stop offset="0.4198" stop-color="#b1182b"/><stop offset="0.481" stop-color="#8d0c25"/><stop offset="0.586" stop-color="#67001f"/><stop offset="0.9971" stop-color="#67001f"/></linearGradient>
<linearGradient id="h75" gradientUnits="userSpaceOnUse" x1="125.0" x2="296.5" y1="0" y2="0"><stop offset="0" stop-color="#f0f4f6"/><stop offset="0.1137" stop-color="#f6f7f7"/><stop offset="0.1574" stop-color="#f9ebe3"/><stop offset="0.1924" stop-color="#fddbc7"/><stop offset="0.2274" stop-color="#f8bb9e"/><stop offset="0.2449" stop-color="#f2a17f"/><stop offset="0.2624" stop-color="#e37e64"/><stop offset="0.3061" stop-color="#d55d4c"/><stop offset="0.3673" stop-color="#be3036"/><stop offset="0.4198" stop-color="#b1182b"/><stop offset="0.4723" stop-color="#900d26"/><stop offset="0.5423" stop-color="#730421"/><stop offset="0.586" stop-color="#67001f"/><stop offset="0.9971" stop-color="#67001f"/></linearGradient>
<linearGradient id="h76" gradientUnits="userSpaceOnUse" x1="125.0" x2="296.5" y1="0" y2="0"><stop offset="0" stop-color="#f5f6f7"/><stop offset="0.07872" stop-color="#f7f5f4"/><stop offset="0.1224" stop-color="#f8f1ed"/><stop offset="0.1487" stop-color="#faeae1"/><stop offset="0.1924" stop-color="#fcd5bf"/><stop offset="0.2274" stop-color="#f7b799"/><stop offset="0.2536" stop-color="#eb9172"/><stop offset="0.2624" stop-color="#e48066"/><stop offset="0.3149" stop-color="#d35a4a"/><stop offset="0.3586" stop-color="#c43b3c"/><stop offset="0.3848" stop-color="#ba2832"/><stop offset="0.4198" stop-color="#b1182b"/><stop offset="0.5073" stop-color="#7f0823"/><stop offset="0.5773" stop-color="#67001f"/><stop offset="0.9971" stop-color="#67001f"/></linearGradient>
<linearGradient id="h77" gradientUnits="userSpaceOnUse" x1="125.0" x2="296.5" y1="0" y2="0"><stop offset="0" stop-color="#f8f3f0"/><stop offset="0.1224" stop-color="#f9ebe3"/><stop offset="0.1399" stop-color="#fae7dc"/><stop offset="0.1837" stop-color="#fcd3bc"/><stop offset="0.2274" stop-color="#f6b191"/><stop offset="0.2449" stop-color="#f09c7b"/><stop offset="0.2711" stop-color="#df765e"/><stop offset="0.3499" stop-color="#c94741"/><stop offset="0.3848" stop-color="#ba2832"/><stop offset="0.4198" stop-color="#b1182b"/><stop offset="0.481" stop-color="#8a0b25"/><stop offset="0.5335" stop-color="#730421"/><stop offset="0.5773" stop-color="#67001f"/><stop offset="0.9971" stop-color="#67001f"/></linearGradient>
<linearGradient id="h78" gradientUnits="userSpaceOnUse" x1="125.0" x2="296.5" y1="0" y2="0"><stop offset="0" stop-color="#f9eee7"/><stop offset="0.03499" stop-color="#fae9df"/><stop offset="0.1224" stop-color="#fbe4d6"/><stop offset="0.1487" stop-color="#fdddcb"/><stop offset="0.2187" stop-color="#f6b394"/><stop offset="0.2449" stop-color="#ec9374"/><stop offset="0.2711" stop-color="#de735c"/><stop offset="0.3411" stop-color="#ce4f45"/><stop offset="0.4023" stop-color="#b41c2d"/><stop offset="0.4198" stop-color="#ae172a"/><stop offset="0.4898" stop-color="#840924"/><stop offset="0.5685" stop-color="#67001f"/><stop offset="0.9971" stop-color="#67001f"/></linearGradient>
<linearGradient id="h79" gradientUnits="userSpaceOnUse" x1="125.0" x2="296.5" y1="0" y2="0"><stop offset="0" stop-color="#fae8de"/><stop offset="0.03499" stop-color="#fbe3d4"/><stop offset="0.1312" stop-color="#fddbc7"/><stop offset="0.1924" stop-color="#f8bb9e"/><stop offset="0.2187" stop-color="#f5aa89"/><stop offset="0.2536" stop-color="#e58368"/><stop offset="0.2711" stop-color="#dd7059"/><stop offset="0.3411" stop-color="#ce4f45"/><stop offset="0.4111" stop-color="#b1182b"/><stop offset="0.481" stop-color="#870a24"/><stop offset="0.551" stop-color="#6a011f"/><stop offset="0.6647" stop-color="#67001f"/><stop offset="0.9971" stop-color="#67001f"/></linearGradient>
<linearGradient id="h80" gradientUnits="userSpaceOnUse" x1="125.0" x2="296.5" y1="0" y2="0"><stop offset="0" stop-color="#fbe3d4"/><stop offset="0.03499" stop-color="#fddbc7"/><stop offset="0.1137" stop-color="#fbd0b9"/><stop offset="0.1312" stop-color="#fbceb7"/><stop offset="0.1749" stop-color="#f8bb9e"/><stop offset="0.2187" stop-color="#f2a17f"/><stop offset="0.2624" stop-color="#de735c"/><stop offset="0.2886" stop-color="#d86551"/><stop offset="0.3324" stop-color="#cf5246"/><stop offset="0.4023" stop-color="#b41c2d"/><stop offset="0.4111" stop-color="#b1182b"/><stop offset="0.4198" stop-color="#a81529"/><stop offset="0.4898" stop-color="#810823"/><stop offset="0.551" stop-color="#6a011f"/><stop offset="0.6647" stop-color="#67001f"/><stop offset="0.9971" stop-color="#67001f"/></linearGradient>
<linearGradient id="h81" gradientUnits="userSpaceOnUse" x1="125.0" x2="296.5" y1="0" y2="0"><stop offset="0" stop-color="#fcdecd"/><stop offset="0.02624" stop-color="#fcd7c2"/><stop offset="0.04373" stop-color="#fbccb4"/><stop offset="0.1312" stop-color="#f8bfa4"/><stop offset="0.1749" stop-color="#f6b191"/><stop offset="0.2012" stop-color="#f3a481"/><stop offset="0.2624" stop-color="#db6b55"/><stop offset="0.3236" stop-color="#cf5246"/><stop offset="0.3848" stop-color="#ba2832"/><stop offset="0.4023" stop-color="#b3192c"/><stop offset="0.4286" stop-color="#9f1228"/><stop offset="0.4985" stop-color="#7c0722"/><stop offset="0.5335" stop-color="#6d0220"/><stop offset="0.5773" stop-color="#67001f"/><stop offset="0.9971" stop-color="#67001f"/></linearGradient>
<linearGradient id="h82" gradientUnits="userSpaceOnUse" x1="125.0" x2="296.5" y1="0" y2="0"><stop offset="0" stop-color="#fcd7c2"/><stop offset="0.04373" stop-color="#f9c4a9"/><stop offset="0.05248" stop-color="#f8bda1"/><stop offset="0.1487" stop-color="#f6b191"/><stop offset="0.1924" stop-color="#f19e7d"/><stop offset="0.2536" stop-color="#db6b55"/><stop offset="0.3149" stop-color="#cf5246"/><stop offset="0.3411" stop-color="#c84440"/><stop offset="0.4023" stop-color="#b1182b"/><stop offset="0.4286" stop-color="#9c1127"/><stop offset="0.481" stop-color="#810823"/><stop offset="0.5423" stop-color="#6a011f"/><stop offset="0.656" stop-color="#67001f"/><stop offset="0.9971" stop-color="#67001f"/></linearGradient>
<linearGradient id="h83" gradientUnits="userSpaceOnUse" x1="125.0" x2="296.5" y1="0" y2="0"><stop offset="0" stop-color="#fbceb7"/><stop offset="0.05248" stop-color="#f7b799"/><stop offset="0.06122" stop-color="#f6b191"/><stop offset="0.1574" stop-color="#f3a481"/><stop offset="0.1837" stop-color="#ef9979"/><stop offset="0.2536" stop-color="#d7634f"/><stop offset="0.3236" stop-color="#cb4942"/><stop offset="0.3936" stop-color="#b3192c"/><stop offset="0.4286" stop-color="#991027"/><stop offset="0.5248" stop-color="#6d0220"/><stop offset="0.5685" stop-color="#67001f"/><stop offset="0.9971" stop-color="#67001f"/></linearGradient>
<linearGradient id="h84" gradientUnits="userSpaceOnUse" x1="125.0" x2="296.5" y1="0" y2="0"><stop offset="0" stop-color="#f9c6ac"/><stop offset="0.07872" stop-color="#f3a481"/><stop offset="0.1574" stop-color="#ee9677"/><stop offset="0.1837" stop-color="#e98b6e"/><stop offset="0.2449" stop-color="#d6604d"/><stop offset="0.3149" stop-color="#cb4942"/><stop offset="0.3936" stop-color="#b1182b"/><stop offset="0.4286" stop-color="#960f27"/><stop offset="0.4985" stop-color="#760521"/><stop offset="0.551" stop-color="#67001f"/><stop offset="0.9971" stop-color="#67001f"/></linearGradient>
<linearGradient id="h85" gradientUnits="userSpaceOnUse" x1="125.0" x2="296.5" y1="0" y2="0"><stop offset="0" stop-color="#f8bda1"/><stop offset="0.07872" stop-color="#f09c7b"/><stop offset="0.1224" stop-color="#ec9374"/><stop offset="0.1662" stop-color="#e98b6e"/><stop offset="0.2012" stop-color="#e17860"/><stop offset="0.2449" stop-color="#d35a4a"/><stop offset="0.3061" stop-color="#cb4942"/><stop offset="0.3936" stop-color="#ae172a"/><stop offset="0.4198" stop-color="#991027"/><stop offset="0.4723" stop-color="#7f0823"/><stop offset="0.516" stop-color="#6d0220"/><stop offset="0.5598" stop-color="#67001f"/><stop offset="0.9971" stop-color="#67001f"/></linearGradient>
<linearGradient id="cb" x1="0" x2="0" y1="0" y2="1"><stop offset="0.000" stop-color="#67001f"/><stop offset="0.050" stop-color="#8a0b25"/><stop offset="0.100" stop-color="#b1182b"/><stop offset="0.150" stop-color="#c43b3c"/><stop offset="0.200" stop-color="#d6604d"/><stop offset="0.250" stop-color="#e48066"/><stop offset="0.300" stop-color="#f3a481"/><stop offset="0.350" stop-color="#f8bfa4"/><stop offset="0.400" stop-color="#fddbc7"/><stop offset="0.450" stop-color="#fae9df"/><stop offset="0.500" stop-color="#f7f6f6"/><stop offset="0.550" stop-color="#e4eef4"/><stop offset="0.600" stop-color="#d1e5f0"/><stop offset="0.650" stop-color="#b1d5e7"/><stop offset="0.700" stop-color="#90c4dd"/><stop offset="0.750" stop-color="#6bacd1"/><stop offset="0.800" stop-color="#4393c3"/><stop offset="0.850" stop-color="#327cb7"/><stop offset="0.900" stop-color="#2065ab"/><stop offset="0.950" stop-color="#124984"/><stop offset="1.000" stop-color="#053061"/></linearGradient>
<linearGradient id="arrB" gradientUnits="userSpaceOnUse" x1="167" x2="322" y1="0" y2="0">
<stop offset="0" stop-color="#2a74b5"/><stop offset="0.25" stop-color="#3079b8"/><stop offset="0.6" stop-color="#8fb6d8"/><stop offset="1" stop-color="#ffffff"/></linearGradient>
<linearGradient id="arrR" gradientUnits="userSpaceOnUse" x1="322" x2="473" y1="0" y2="0">
<stop offset="0" stop-color="#ffffff"/><stop offset="0.4" stop-color="#f0a3a3"/><stop offset="0.75" stop-color="#e03a3a"/><stop offset="1" stop-color="#dc2326"/></linearGradient>
<linearGradient id="purL" x1="0" x2="1" y1="0" y2="0"><stop offset="0" stop-color="#52307c"/><stop offset="1" stop-color="#5c3a8c"/></linearGradient>
<linearGradient id="purR" x1="0" x2="1" y1="0" y2="0"><stop offset="0" stop-color="#a672de"/><stop offset="1" stop-color="#9a68cf"/></linearGradient>
<linearGradient id="top1" x1="0" x2="0" y1="0" y2="1"><stop offset="0" stop-color="#648aaa"/><stop offset="1" stop-color="#7c9fba"/></linearGradient>
<linearGradient id="top3" x1="0" x2="0" y1="0" y2="1"><stop offset="0" stop-color="#c57a81"/><stop offset="1" stop-color="#c4767d"/></linearGradient>
<linearGradient id="gl1L" x1="0" x2="1" y1="0" y2="0"><stop offset="0" stop-color="#9fb4c6"/><stop offset="0.12" stop-color="#6d8fac"/><stop offset="1" stop-color="#7697b3"/></linearGradient>
<linearGradient id="gl2L" x1="0" x2="1" y1="0" y2="0"><stop offset="0" stop-color="#c0bcc8"/><stop offset="0.15" stop-color="#a08fab"/><stop offset="1" stop-color="#a692ae"/></linearGradient>
<linearGradient id="gl3L" x1="0" x2="1" y1="0" y2="0"><stop offset="0" stop-color="#d4b4b8"/><stop offset="0.12" stop-color="#bc777e"/><stop offset="1" stop-color="#c27f86"/></linearGradient>
<filter id="mot" x="0" y="0" width="1" height="1" color-interpolation-filters="sRGB">
<feTurbulence type="fractalNoise" baseFrequency="0.14 0.27" numOctaves="2" seed="11" result="n"/>
<feColorMatrix in="n" type="matrix" values="0 0 0 0 0  0 0 0 0 0  0 0 0 0 0  40 0 0 0 -19.6" result="m"/>
<feComposite in="SourceGraphic" in2="m" operator="in"/>
</filter>
<linearGradient id="rim" x1="0" x2="0" y1="0" y2="1"><stop offset="0" stop-color="#ececec"/><stop offset="0.5" stop-color="#d2d2d2"/><stop offset="1" stop-color="#c4c4c4"/></linearGradient>
<linearGradient id="botl" x1="0" x2="1" y1="0" y2="0"><stop offset="0" stop-color="#ea7a58"/><stop offset="0.45" stop-color="#d24a3c"/><stop offset="1" stop-color="#b2182b" stop-opacity="0"/></linearGradient>
</defs>
<!-- side bands -->
<rect x="0" y="0" width="67.1" height="400" fill="#e9ebfa"/>
<rect x="586" y="0" width="64" height="400" fill="#e9ebfa"/>

<!-- ================= panel a ================= -->
<g id="panelA">
<rect x="125.0" y="18.50" width="171.5" height="2.60" fill="url(#h0)"/>
<rect x="125.0" y="20.50" width="171.5" height="2.60" fill="url(#h1)"/>
<rect x="125.0" y="22.50" width="171.5" height="2.60" fill="url(#h2)"/>
<rect x="125.0" y="24.50" width="171.5" height="2.60" fill="url(#h3)"/>
<rect x="125.0" y="26.50" width="171.5" height="2.60" fill="url(#h4)"/>
<rect x="125.0" y="28.50" width="171.5" height="2.60" fill="url(#h5)"/>
<rect x="125.0" y="30.50" width="171.5" height="2.60" fill="url(#h6)"/>
<rect x="125.0" y="32.50" width="171.5" height="2.60" fill="url(#h7)"/>
<rect x="125.0" y="34.50" width="171.5" height="2.60" fill="url(#h8)"/>
<rect x="125.0" y="36.50" width="171.5" height="2.60" fill="url(#h9)"/>
<rect x="125.0" y="38.50" width="171.5" height="2.60" fill="url(#h10)"/>
<rect x="125.0" y="40.50" width="171.5" height="2.60" fill="url(#h11)"/>
<rect x="125.0" y="42.50" width="171.5" height="2.60" fill="url(#h12)"/>
<rect x="125.0" y="44.50" width="171.5" height="2.60" fill="url(#h13)"/>
<rect x="125.0" y="46.50" width="171.5" height="2.60" fill="url(#h14)"/>
<rect x="125.0" y="48.50" width="171.5" height="2.60" fill="url(#h15)"/>
<rect x="125.0" y="50.50" width="171.5" height="2.60" fill="url(#h16)"/>
<rect x="125.0" y="52.50" width="171.5" height="2.60" fill="url(#h17)"/>
<rect x="125.0" y="54.50" width="171.5" height="2.60" fill="url(#h18)"/>
<rect x="125.0" y="56.50" width="171.5" height="2.60" fill="url(#h19)"/>
<rect x="125.0" y="58.50" width="171.5" height="2.60" fill="url(#h20)"/>
<rect x="125.0" y="60.50" width="171.5" height="2.60" fill="url(#h21)"/>
<rect x="125.0" y="62.50" width="171.5" height="2.60" fill="url(#h22)"/>
<rect x="125.0" y="64.50" width="171.5" height="2.60" fill="url(#h23)"/>
<rect x="125.0" y="66.50" width="171.5" height="2.60" fill="url(#h24)"/>
<rect x="125.0" y="68.50" width="171.5" height="2.60" fill="url(#h25)"/>
<rect x="125.0" y="70.50" width="171.5" height="2.60" fill="url(#h26)"/>
<rect x="125.0" y="72.50" width="171.5" height="2.60" fill="url(#h27)"/>
<rect x="125.0" y="74.50" width="171.5" height="2.60" fill="url(#h28)"/>
<rect x="125.0" y="76.50" width="171.5" height="2.60" fill="url(#h29)"/>
<rect x="125.0" y="78.50" width="171.5" height="2.60" fill="url(#h30)"/>
<rect x="125.0" y="80.50" width="171.5" height="2.60" fill="url(#h31)"/>
<rect x="125.0" y="82.50" width="171.5" height="2.60" fill="url(#h32)"/>
<rect x="125.0" y="84.50" width="171.5" height="2.60" fill="url(#h33)"/>
<rect x="125.0" y="86.50" width="171.5" height="2.60" fill="url(#h34)"/>
<rect x="125.0" y="88.50" width="171.5" height="2.60" fill="url(#h35)"/>
<rect x="125.0" y="90.50" width="171.5" height="2.60" fill="url(#h36)"/>
<rect x="125.0" y="92.50" width="171.5" height="2.60" fill="url(#h37)"/>
<rect x="125.0" y="94.50" width="171.5" height="2.60" fill="url(#h38)"/>
<rect x="125.0" y="96.50" width="171.5" height="2.60" fill="url(#h39)"/>
<rect x="125.0" y="98.50" width="171.5" height="2.60" fill="url(#h40)"/>
<rect x="125.0" y="100.50" width="171.5" height="2.60" fill="url(#h41)"/>
<rect x="125.0" y="102.50" width="171.5" height="2.60" fill="url(#h42)"/>
<rect x="125.0" y="104.50" width="171.5" height="2.60" fill="url(#h43)"/>
<rect x="125.0" y="106.50" width="171.5" height="2.60" fill="url(#h44)"/>
<rect x="125.0" y="108.50" width="171.5" height="2.60" fill="url(#h45)"/>
<rect x="125.0" y="110.50" width="171.5" height="2.60" fill="url(#h46)"/>
<rect x="125.0" y="112.50" width="171.5" height="2.60" fill="url(#h47)"/>
<rect x="125.0" y="114.50" width="171.5" height="2.60" fill="url(#h48)"/>
<rect x="125.0" y="116.50" width="171.5" height="2.60" fill="url(#h49)"/>
<rect x="125.0" y="118.50" width="171.5" height="2.60" fill="url(#h50)"/>
<rect x="125.0" y="120.50" width="171.5" height="2.60" fill="url(#h51)"/>
<rect x="125.0" y="122.50" width="171.5" height="2.60" fill="url(#h52)"/>
<rect x="125.0" y="124.50" width="171.5" height="2.60" fill="url(#h53)"/>
<rect x="125.0" y="126.50" width="171.5" height="2.60" fill="url(#h54)"/>
<rect x="125.0" y="128.50" width="171.5" height="2.60" fill="url(#h55)"/>
<rect x="125.0" y="130.50" width="171.5" height="2.60" fill="url(#h56)"/>
<rect x="125.0" y="132.50" width="171.5" height="2.60" fill="url(#h57)"/>
<rect x="125.0" y="134.50" width="171.5" height="2.60" fill="url(#h58)"/>
<rect x="125.0" y="136.50" width="171.5" height="2.60" fill="url(#h59)"/>
<rect x="125.0" y="138.50" width="171.5" height="2.60" fill="url(#h60)"/>
<rect x="125.0" y="140.50" width="171.5" height="2.60" fill="url(#h61)"/>
<rect x="125.0" y="142.50" width="171.5" height="2.60" fill="url(#h62)"/>
<rect x="125.0" y="144.50" width="171.5" height="2.60" fill="url(#h63)"/>
<rect x="125.0" y="146.50" width="171.5" height="2.60" fill="url(#h64)"/>
<rect x="125.0" y="148.50" width="171.5" height="2.60" fill="url(#h65)"/>
<rect x="125.0" y="150.50" width="171.5" height="2.60" fill="url(#h66)"/>
<rect x="125.0" y="152.50" width="171.5" height="2.60" fill="url(#h67)"/>
<rect x="125.0" y="154.50" width="171.5" height="2.60" fill="url(#h68)"/>
<rect x="125.0" y="156.50" width="171.5" height="2.60" fill="url(#h69)"/>
<rect x="125.0" y="158.50" width="171.5" height="2.60" fill="url(#h70)"/>
<rect x="125.0" y="160.50" width="171.5" height="2.60" fill="url(#h71)"/>
<rect x="125.0" y="162.50" width="171.5" height="2.60" fill="url(#h72)"/>
<rect x="125.0" y="164.50" width="171.5" height="2.60" fill="url(#h73)"/>
<rect x="125.0" y="166.50" width="171.5" height="2.60" fill="url(#h74)"/>
<rect x="125.0" y="168.50" width="171.5" height="2.60" fill="url(#h75)"/>
<rect x="125.0" y="170.50" width="171.5" height="2.60" fill="url(#h76)"/>
<rect x="125.0" y="172.50" width="171.5" height="2.60" fill="url(#h77)"/>
<rect x="125.0" y="174.50" width="171.5" height="2.60" fill="url(#h78)"/>
<rect x="125.0" y="176.50" width="171.5" height="2.60" fill="url(#h79)"/>
<rect x="125.0" y="178.50" width="171.5" height="2.60" fill="url(#h80)"/>
<rect x="125.0" y="180.50" width="171.5" height="2.60" fill="url(#h81)"/>
<rect x="125.0" y="182.50" width="171.5" height="2.60" fill="url(#h82)"/>
<rect x="125.0" y="184.50" width="171.5" height="2.60" fill="url(#h83)"/>
<rect x="125.0" y="186.50" width="171.5" height="2.60" fill="url(#h84)"/>
<rect x="125.0" y="188.50" width="171.5" height="1.20" fill="url(#h85)"/>
<rect x="125" y="188" width="95" height="1.7" fill="url(#botl)"/>
<rect x="125" y="18.4" width="171.5" height="171.3" fill="none" stroke="#000" stroke-width="0.8"/>
<g stroke="#000" stroke-width="0.8">
<path d="M122 20.5H125M122 41.6H125M122 62.7H125M122 83.8H125M122 104.9H125M122 126H125M122 147.1H125M122 168.2H125M122 189.3H125"/>
<path d="M125 189.7V193M172.5 189.7V193M220 189.7V193M267.5 189.7V193"/>
</g>
<g class="dj" font-size="11" text-anchor="end" fill="#000">
<text x="118.7" y="24.4">8</text><text x="118.7" y="45.5">7</text><text x="118.7" y="66.6">6</text><text x="118.7" y="87.7">5</text>
<text x="118.7" y="108.8">4</text><text x="118.7" y="129.9">3</text><text x="118.7" y="151">2</text><text x="118.7" y="172.1">1</text><text x="118.7" y="193.2">0</text>
</g>
<g class="dj" font-size="11" text-anchor="middle" fill="#000">
<text x="125" y="204.6">0</text><text x="172.5" y="204.6">50</text><text x="220" y="204.6">100</text><text x="267.5" y="204.6">150</text>
</g>
<text class="dj it" font-size="11.3" text-anchor="middle" x="212.2" y="220.9">J<tspan font-size="7.9" dy="1.8">I</tspan><tspan dy="-1.8"> (μJ/m</tspan><tspan font-size="7.9" dy="-4.2">2</tspan><tspan dy="4.2">)</tspan></text>
<text class="dj it" font-size="11.3" text-anchor="middle" transform="translate(103.8 103.4) rotate(-90)">K<tspan font-size="7.9" dy="1.8">AFM</tspan><tspan dy="-1.8">t</tspan><tspan font-size="7.9" dy="1.8">A/FM</tspan><tspan dy="-1.8"> (μJ/m</tspan><tspan font-size="7.9" dy="-4.2">2</tspan><tspan dy="4.2">)</tspan></text>
<!-- annotations -->
<g class="ar w" font-size="11.7" fill="#fff" text-anchor="middle">
<text x="151.4" y="35">MAE</text><text x="152" y="47.5">dominant</text>
<text x="259.9" y="163">spin flop</text><text x="259.9" y="173.8">domiant</text>
</g>
<g stroke="#fff" fill="#fff">
<path d="M151.5 58.5V77" stroke-width="1.6" fill="none"/>
<path d="M151.5 54.8L153.8 61H149.2Z M151.5 80.4L153.8 74.2H149.2Z" stroke="none"/>
<path d="M260.6 116.6V147.4" stroke-width="1.8" stroke-dasharray="4.2 2.1" fill="none"/>
<path d="M260.6 133.6L251.6 130.6M260.6 133.6L269.6 130.6" stroke-width="1.7" fill="none"/>
<path d="M247.4 129.4L253.6 128.2L252 133.2Z M273.8 129.4L267.6 128.2L269.2 133.2Z" stroke="none"/>
</g>
<!-- colorbar -->
<rect x="306.8" y="56.2" width="5.2" height="94.3" fill="url(#cb)" stroke="#000" stroke-width="0.7"/>
<path d="M312 56.5H314.6M312 87.9H314.6M312 119.3H314.6M312 150.4H314.6" stroke="#000" stroke-width="0.8"/>
<g class="dj" font-size="11.4" fill="#000">
<text x="317.8" y="60.4">90</text><text x="317.8" y="91.8">60</text><text x="317.8" y="123.2">30</text><text x="317.8" y="154.4">0</text>
</g>
<text class="ar" font-size="11.8" fill="#000" text-anchor="middle" transform="translate(336.3 108.8) rotate(90)">average Néel angle (°)</text>
<text class="ar" font-size="13" letter-spacing="0.4" x="91.7" y="14.3">(a)</text>
</g>

<!-- ================= panel b ================= -->
<g id="panelB">
<text class="ar" font-size="12.7" letter-spacing="0.4" x="354.1" y="13.6">(b)</text>
<g class="ar" font-size="11.7" text-anchor="middle" fill="#000">
<text x="411.3" y="39.6">MAE</text><text x="411.3" y="52.9">dominant</text>
<text x="521" y="39.6">spin flop</text><text x="521" y="52.9">dominant</text>
<text x="406" y="192.6">Néel angle = 0°</text><text x="518" y="192.6">Néel angle = 90°</text>
</g>
<!-- left lower slab -->
<g>
<polygon points="393.6,119 454.6,126.3 434.6,157.2 370,144.6" fill="#d0ccdf" stroke="#d0ccdf" stroke-width="0.5" stroke-linejoin="round"/>
<polygon points="370,144.6 434.6,157.2 434.6,166.7 370,154.3" fill="#c9c5da" stroke="#c9c5da" stroke-width="0.5" stroke-linejoin="round"/>
<polygon points="434.6,157.2 454.6,126.3 454.6,135.4 434.6,166.7" fill="#c1bdd3" stroke="#c1bdd3" stroke-width="0.5" stroke-linejoin="round"/>
<path d="M418.3 129.5L410.3 140.3" stroke="#5c4c80" stroke-width="4.1" fill="none"/>
<polygon points="406.5,145.1 405.2,139 413.9,142.7" fill="#5c4c80"/>
</g>
<!-- left upper slab -->
<g>
<polygon points="395,78.4 456,88.2 435,116.6 368.2,104.8" fill="#a7d1dd" stroke="#a7d1dd" stroke-width="0.5" stroke-linejoin="round"/>
<polygon points="368.2,104.8 435,116.6 435,126.2 368.2,114.5" fill="#a3cdd9" stroke="#a3cdd9" stroke-width="0.5" stroke-linejoin="round"/>
<polygon points="435,116.6 456,88.2 456,98 435,126.2" fill="#9bc5d3" stroke="#9bc5d3" stroke-width="0.5" stroke-linejoin="round"/>
<path d="M396.5 116.2L428.4 76.2" stroke="#383838" stroke-width="1.4" stroke-dasharray="4.3 2.4" fill="none"/>
<path d="M407.5 100.5L419 89.5" stroke="#2b7990" stroke-width="4.4" fill="none"/>
<polygon points="403,104.8 405.2,96.4 411.4,102.9" fill="#2b7990"/>
<polygon points="423.5,85.2 421.3,93.6 415.1,87.1" fill="#2b7990"/>
</g>
<!-- right lower slab -->
<g>
<polygon points="499.5,119 560.6,126.4 541.9,157 477.2,144.5" fill="#d0ccdf" stroke="#d0ccdf" stroke-width="0.5" stroke-linejoin="round"/>
<polygon points="477.2,144.5 541.9,157 541.9,166.8 477.2,154.4" fill="#c9c5da" stroke="#c9c5da" stroke-width="0.5" stroke-linejoin="round"/>
<polygon points="541.9,157 560.6,126.4 560.6,135.4 541.9,166.8" fill="#c1bdd3" stroke="#c1bdd3" stroke-width="0.5" stroke-linejoin="round"/>
<path d="M524.7 129.7L516.6 141.2" stroke="#5c4c80" stroke-width="4.1" fill="none"/>
<polygon points="513.7,145.6 512,139.9 520.6,142.5" fill="#5c4c80"/>
</g>
<!-- right upper slab -->
<g>
<polygon points="501.5,78.5 563,88.2 542.6,115.6 475,105.1" fill="#e9b2b2" stroke="#e9b2b2" stroke-width="0.5" stroke-linejoin="round"/>
<polygon points="475,105.1 542.6,115.6 542.6,126.2 475,115.3" fill="#e6a9ab" stroke="#e6a9ab" stroke-width="0.5" stroke-linejoin="round"/>
<polygon points="542.6,115.6 563,88.2 563,97.7 542.6,126.2" fill="#dfa3a6" stroke="#dfa3a6" stroke-width="0.5" stroke-linejoin="round"/>
<path d="M504.6 114.6L535.4 76.2" stroke="#383838" stroke-width="1.4" stroke-dasharray="4.3 2.4" fill="none"/>
<path d="M501 94.5L521 94.7L538 100" stroke="#ad3a31" stroke-width="3.7" fill="none" stroke-linejoin="round"/>
<polygon points="492.8,93.9 503,90.4 503,98.4" fill="#ad3a31"/>
<polygon points="545,102 536,103.2 538.2,95.8" fill="#ad3a31"/>
</g>
</g>

<!-- ================= panel c ================= -->
<g id="panelC">
<text class="ar" font-size="13" letter-spacing="0.4" x="92.6" y="238">(c)</text>
<g class="ar" font-size="11" text-anchor="middle" fill="#000">
<text x="182.3" y="247.5" font-size="10.9">High spin transmission</text><text x="181" y="260.6">Strong anisotropy</text>
<text x="334.5" y="247.6" font-size="10.9">Low spin transmission</text><text x="334.6" y="261" font-size="10.8">Weak anisotropy</text>
<text x="482.6" y="253.8">No spin transmission</text>
</g>
<g class="ar" font-size="11.75" fill="#000">
<text x="154" y="392.9">Increase MAE</text><text x="366" y="390.5">Increase interface coupling</text>
</g>
<!-- slab 1 -->
<g id="s1">
<polygon points="110.8,301 159.6,331.1 159.6,352.1 110.8,316.2" fill="url(#purL)"/>
<polygon points="159.6,331.1 241,308.9 241,327.6 159.6,352.1" fill="url(#purR)"/>
<polygon points="110.8,295.4 159.6,324.1 159.6,331.1 110.8,301" fill="#1a5a8c"/>
<polygon points="159.6,324.1 241,302.6 241,308.9 159.6,331.1" fill="#2d8bd8"/>
<polygon points="110.8,290.6 183.3,278.6 241,297.4 159.6,318.9" fill="#e0e0e0"/><polygon points="110.8,292.2 183.3,280.1 241,299.0 159.6,318.9" fill="#cacaca"/>
<polygon points="110.8,294.8 183.3,282.5 241,301.8 159.6,318.9" fill="url(#top1)"/>
<polygon points="110.8,290.6 159.6,318.9 159.6,324.1 110.8,295.4" fill="url(#gl1L)"/>
<polygon points="159.6,318.9 241,297.4 241,302.6 159.6,324.1" fill="#97b0c7"/>
<rect x="201.4" y="300" width="4.3" height="42.6" fill="#000"/>
<polygon points="203.5,286.6 208.4,302.3 198.6,302.3" fill="#000"/>
</g>
<!-- slab 2 -->
<g id="s2">
<polygon points="265.7,301.4 314.2,330.9 314.2,352.4 265.7,316.2" fill="url(#purL)"/>
<polygon points="314.2,330.9 395.5,309.5 395.5,326.1 314.2,352.4" fill="url(#purR)"/>
<polygon points="265.7,296 314.2,323.9 314.2,330.9 265.7,301.4" fill="#2a88d4"/>
<polygon points="314.2,323.9 395.5,302.9 395.5,309.5 314.2,330.9" fill="#3a9fea"/>
<polygon points="265.7,296.0 271.5,299.3 271.5,304.9 265.7,301.4" fill="#d8181c"/><polygon points="280.2,304.4 283.6,306.3 283.6,312.3 280.2,310.2" fill="#d8181c"/><polygon points="289.0,309.4 292.4,311.3 292.4,317.6 289.0,315.6" fill="#d8181c"/><polygon points="296.5,313.7 299.6,315.5 299.6,322.0 296.5,320.1" fill="#d8181c"/><polygon points="304.0,318.0 308.4,320.6 308.4,327.4 304.0,324.7" fill="#d8181c"/><polygon points="316.6,323.3 323.1,321.6 323.1,328.5 316.6,330.3" fill="#f22a2a"/><polygon points="337.4,317.9 343.9,316.2 343.9,323.1 337.4,324.8" fill="#f22a2a"/><polygon points="347.1,315.4 354.9,313.4 354.9,320.2 347.1,322.2" fill="#f22a2a"/><polygon points="357.9,312.6 361.1,311.8 361.1,318.6 357.9,319.4" fill="#f22a2a"/><polygon points="364.3,311.0 368.7,309.8 368.7,316.6 364.3,317.7" fill="#f22a2a"/><polygon points="371.9,309.0 375.2,308.1 375.2,314.9 371.9,315.7" fill="#f22a2a"/><polygon points="378.4,307.3 381.7,306.5 381.7,313.1 378.4,314.0" fill="#f22a2a"/><polygon points="387.0,305.1 395.5,302.9 395.5,309.5 387.0,311.7" fill="#f22a2a"/>
<polygon points="265.7,291.2 338.6,278.6 395.5,297.3 314.2,319.1" fill="#e0e0e0"/><polygon points="265.7,292.8 338.6,280.1 395.5,298.9 314.2,319.1" fill="#cacaca"/>
<polygon points="265.7,295.4 338.6,282.5 395.5,301.8 395.5,302.9 314.2,323.9 265.7,296" fill="#6f97b8"/>
<polygon points="265.7,295.4 338.6,282.5 395.5,301.8 395.5,302.9 314.2,323.9 265.7,296" fill="#d4727a" filter="url(#mot)"/>
<polygon points="265.7,291.2 314.2,319.1 314.2,323.9 265.7,296" fill="url(#gl2L)" fill-opacity="0.35"/>
<polygon points="314.2,319.1 395.5,297.3 395.5,302.9 314.2,323.9" fill="#dcdce4" fill-opacity="0.42"/>
<rect x="354.1" y="299.5" width="1.3" height="41.2" fill="#2a3040"/>
<polygon points="354.8,293.3 357.3,301 352.3,301" fill="#2a3040"/>
</g>
<!-- slab 3 -->
<g id="s3">
<polygon points="421.4,301.4 469,330.9 469,352.4 421.4,316.2" fill="url(#purL)"/>
<polygon points="469,330.9 550.4,309.5 550.4,326.1 469,352.4" fill="url(#purR)"/>
<polygon points="421.4,296 469,324.4 469,330.9 421.4,301.4" fill="#bf1219"/>
<polygon points="469,324.4 550.4,303.4 550.4,309.5 469,330.9" fill="#f02222"/>
<polygon points="421.4,291.2 493.6,278.6 550.4,297.6 469,319.1" fill="#e0e0e0"/><polygon points="421.4,292.8 493.6,280.1 550.4,299.2 469,319.1" fill="#cacaca"/>
<polygon points="421.4,295.4 493.6,282.5 550.4,302 469,319.1" fill="url(#top3)"/>
<polygon points="421.4,291.2 469,319.1 469,324.4 421.4,296" fill="url(#gl3L)"/>
<polygon points="469,319.1 550.4,297.6 550.4,303.4 469,324.4" fill="#d39ba1"/>
<rect x="505.1" y="314.8" width="1.4" height="24.6" fill="#3c2450" fill-opacity="0.85"/>
</g>
<!-- bottom arrows -->
<path d="M166.6 366.3L190.6 357.4L188.6 363.4H322V369.3H188.6L190.6 375.3Z" fill="url(#arrB)"/>
<path d="M474.4 366.3L450.4 357.4L452.4 363.4H322V369.3H452.4L450.4 375.3Z" fill="url(#arrR)"/>
</g>
</svg>
</body></html>
